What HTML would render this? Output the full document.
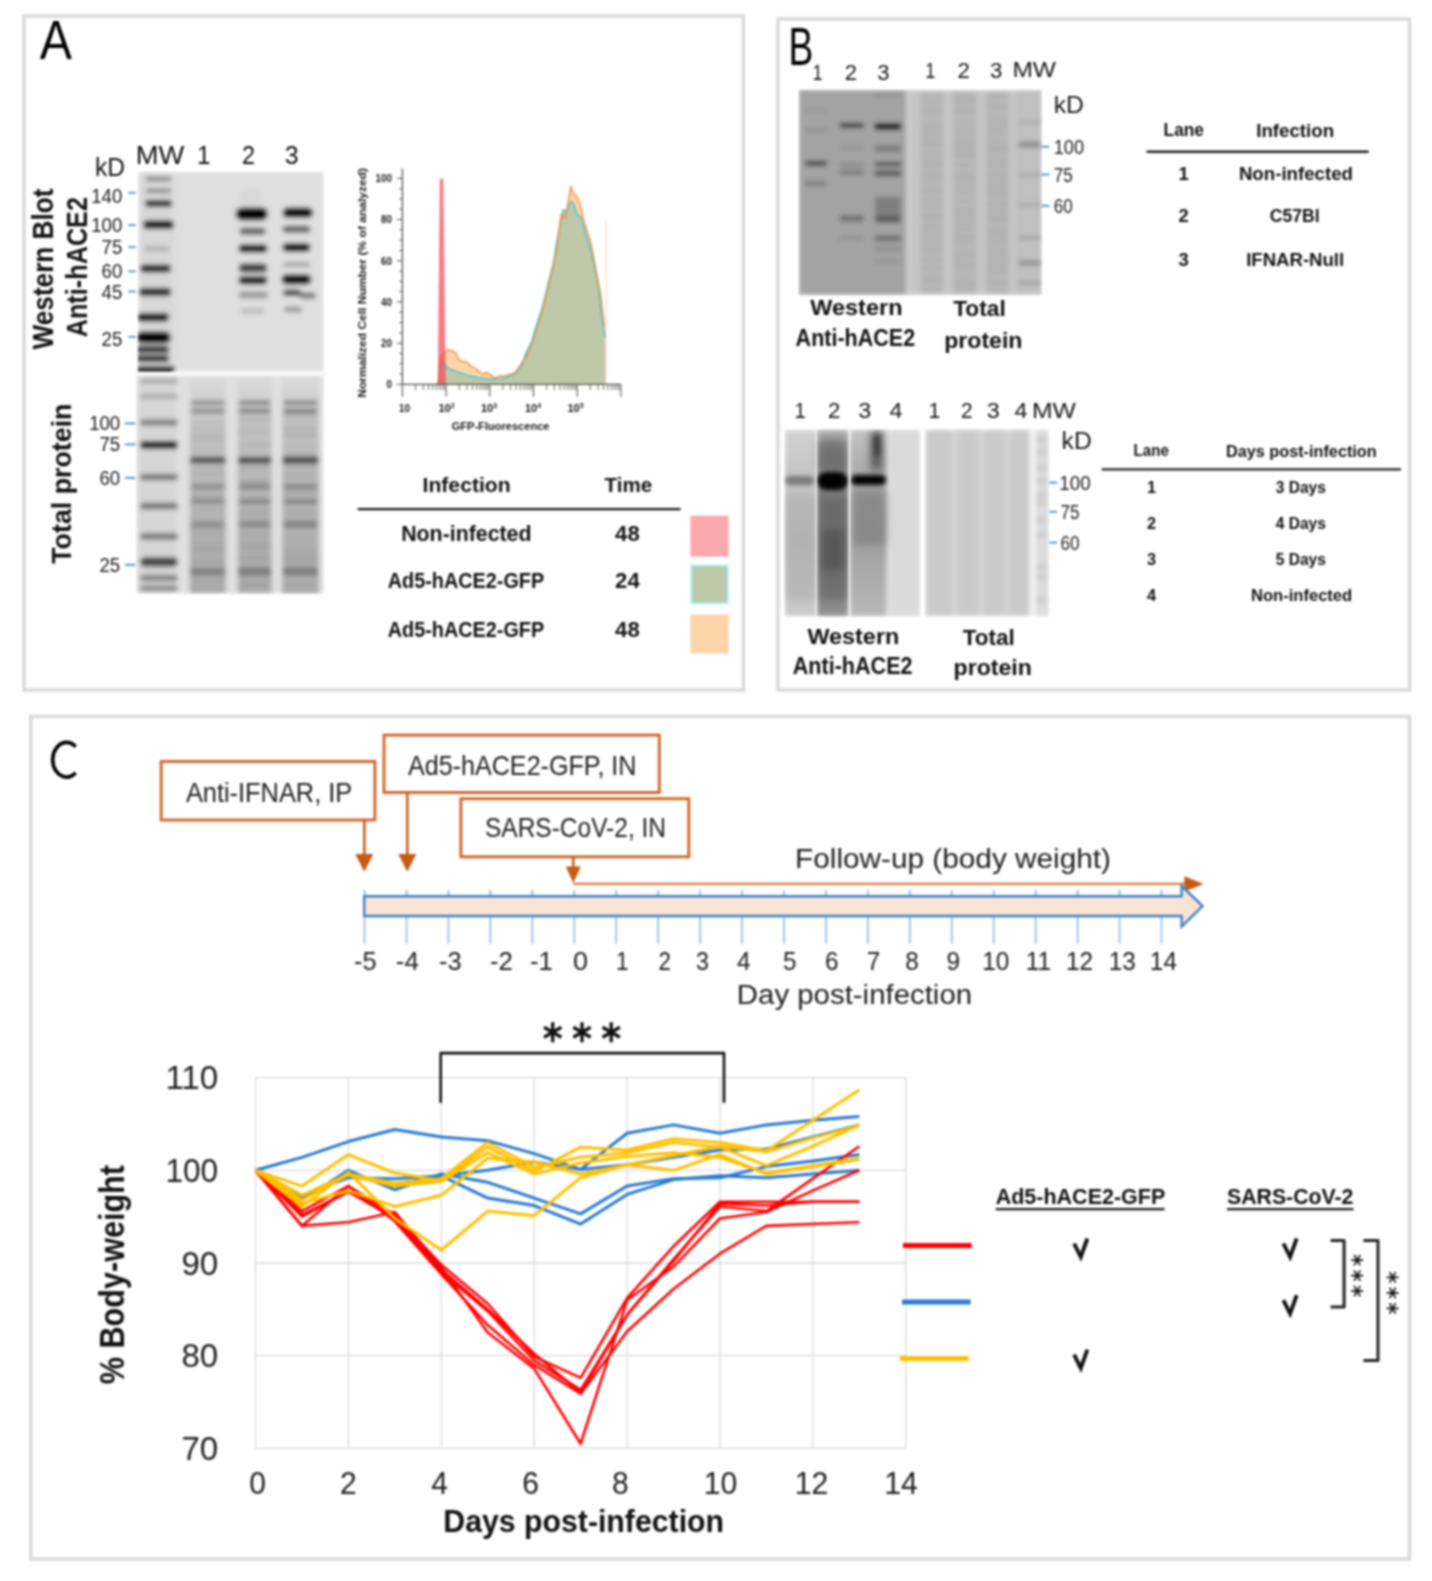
<!DOCTYPE html>
<html><head><meta charset="utf-8"><style>
html,body{margin:0;padding:0;background:#fff;}
svg{display:block;filter:blur(1.0px);}
text{font-family:"Liberation Sans", sans-serif;}
</style></head><body>
<svg width="1432" height="1581" viewBox="0 0 1432 1581">
<defs>
<clipPath id="cA1"><rect x="137.7" y="171.3" width="186.4" height="200.4"/></clipPath>
<clipPath id="cA2"><rect x="135.8" y="375.1" width="188.4" height="218.9"/></clipPath>
<clipPath id="cB1"><rect x="798.5" y="89.4" width="243.5" height="206"/></clipPath>
<clipPath id="cB2"><rect x="784.3" y="429.3" width="136.3" height="187.4"/></clipPath>
<clipPath id="cB23"><rect x="784.3" y="429.3" width="136.3" height="187.4"/><rect x="924.8" y="429.1" width="124.5" height="187.7"/></clipPath>
<filter id="bl12" x="-5%" y="-5%" width="110%" height="110%"><feGaussianBlur stdDeviation="2.0"/></filter>
<filter id="bl15" x="-5%" y="-5%" width="110%" height="110%"><feGaussianBlur stdDeviation="2.0"/></filter>
<filter id="bl20" x="-5%" y="-5%" width="110%" height="110%"><feGaussianBlur stdDeviation="2.4"/></filter>
<filter id="bl40" x="-20%" y="-20%" width="140%" height="140%"><feGaussianBlur stdDeviation="4"/></filter>
<linearGradient id="lgL1" x1="0" y1="0" x2="0" y2="1"><stop offset="0" stop-color="#d2d2d2"/><stop offset="0.25" stop-color="#c4c4c4"/><stop offset="0.6" stop-color="#bababa"/><stop offset="1" stop-color="#cacaca"/></linearGradient>
<linearGradient id="lgL2" x1="0" y1="0" x2="0" y2="1"><stop offset="0" stop-color="#b0b0b0"/><stop offset="0.15" stop-color="#8c8c8c"/><stop offset="0.4" stop-color="#7a7a7a"/><stop offset="0.7" stop-color="#787878"/><stop offset="1" stop-color="#909090"/></linearGradient>
<linearGradient id="lgL3" x1="0" y1="0" x2="0" y2="1"><stop offset="0" stop-color="#c4c4c4"/><stop offset="0.25" stop-color="#a8a8a8"/><stop offset="0.6" stop-color="#a0a0a0"/><stop offset="1" stop-color="#b8b8b8"/></linearGradient>
<linearGradient id="lg1" x1="0" y1="0" x2="0" y2="1"><stop offset="0" stop-color="#dadada"/><stop offset="0.15" stop-color="#cdcdcd"/><stop offset="0.45" stop-color="#bdbdbd"/><stop offset="1" stop-color="#acacac"/></linearGradient>
</defs>
<rect width="1432" height="1581" fill="#fff"/>
<rect x="24.00" y="16.00" width="719.50" height="674.00" fill="none" stroke="#dadada" stroke-width="3.6" />
<rect x="778.00" y="19.00" width="631.50" height="671.00" fill="none" stroke="#dadada" stroke-width="3.6" />
<rect x="30.80" y="716.50" width="1378.70" height="842.50" fill="none" stroke="#dadada" stroke-width="3.6" />
<text x="39.80" y="59.40" font-size="55" font-weight="normal" text-anchor="start" fill="#000" textLength="32.20" lengthAdjust="spacingAndGlyphs" >A</text>
<text x="135.70" y="164.00" font-size="25.3" font-weight="normal" text-anchor="start" fill="#111" textLength="48.60" lengthAdjust="spacingAndGlyphs" >MW</text>
<text x="197.00" y="164.00" font-size="25.3" font-weight="normal" text-anchor="start" fill="#111" textLength="13.50" lengthAdjust="spacingAndGlyphs" >1</text>
<text x="242.00" y="164.00" font-size="25.3" font-weight="normal" text-anchor="start" fill="#111" textLength="13.00" lengthAdjust="spacingAndGlyphs" >2</text>
<text x="284.70" y="164.00" font-size="25.3" font-weight="normal" text-anchor="start" fill="#111" textLength="13.90" lengthAdjust="spacingAndGlyphs" >3</text>
<text x="95.00" y="176.00" font-size="26" font-weight="normal" text-anchor="start" fill="#111" textLength="30.00" lengthAdjust="spacingAndGlyphs" >kD</text>
<g clip-path="url(#cA1)"><g filter="url(#bl12)">
<rect x="137.70" y="171.30" width="186.40" height="200.40" fill="#dfdfdf" stroke="none" stroke-width="0" />
<rect x="140.00" y="172.00" width="34.00" height="199.00" fill="#d8d8d8" stroke="none" stroke-width="0" />
<rect x="146.00" y="177.50" width="25.20" height="3.00" rx="1.50" fill="#505050" fill-opacity="1.0"/>
<rect x="146.00" y="189.30" width="25.20" height="3.00" rx="1.50" fill="#505050" fill-opacity="1.0"/>
<rect x="145.00" y="200.15" width="27.00" height="6.50" rx="3.25" fill="#050505" fill-opacity="1.0"/>
<rect x="143.00" y="220.55" width="31.00" height="8.50" rx="4.25" fill="#000000" fill-opacity="1.0"/>
<rect x="145.00" y="246.30" width="25.00" height="5.00" rx="2.50" fill="#afafaf" fill-opacity="1.0"/>
<rect x="140.00" y="264.65" width="31.00" height="7.50" rx="3.75" fill="#000000" fill-opacity="1.0"/>
<rect x="139.00" y="288.10" width="32.00" height="8.00" rx="4.00" fill="#000000" fill-opacity="1.0"/>
<rect x="137.00" y="312.95" width="32.00" height="8.50" rx="4.25" fill="#000000" fill-opacity="1.0"/>
<rect x="136.00" y="331.50" width="35.00" height="12.00" rx="6.00" fill="#000000" fill-opacity="1.0"/>
<rect x="136.00" y="346.00" width="33.00" height="7.00" rx="3.50" fill="#000000" fill-opacity="1.0"/>
<rect x="136.00" y="355.10" width="33.00" height="7.00" rx="3.50" fill="#000000" fill-opacity="1.0"/>
<rect x="136.00" y="366.10" width="39.00" height="7.00" rx="3.50" fill="#050505" fill-opacity="1.0"/>
<rect x="239.00" y="189.00" width="23.00" height="16.00" rx="8.00" fill="#cdcdcd" fill-opacity="0.4"/>
<rect x="235.50" y="207.40" width="32.50" height="13.00" rx="6.50" fill="#000000" fill-opacity="1.0"/>
<rect x="239.50" y="227.80" width="26.00" height="7.00" rx="3.50" fill="#5f5f5f" fill-opacity="1.0"/>
<rect x="238.50" y="244.40" width="29.00" height="8.00" rx="4.00" fill="#050505" fill-opacity="1.0"/>
<rect x="238.50" y="263.60" width="29.00" height="9.00" rx="4.50" fill="#414141" fill-opacity="1.0"/>
<rect x="238.50" y="275.95" width="29.00" height="8.50" rx="4.25" fill="#0a0a0a" fill-opacity="1.0"/>
<rect x="238.50" y="291.40" width="30.00" height="7.00" rx="3.50" fill="#9b9b9b" fill-opacity="1.0"/>
<rect x="241.00" y="308.00" width="23.00" height="6.00" rx="3.00" fill="#bebebe" fill-opacity="1.0"/>
<rect x="282.50" y="207.55" width="30.50" height="10.50" rx="5.25" fill="#000000" fill-opacity="1.0"/>
<rect x="282.50" y="225.70" width="28.00" height="7.00" rx="3.50" fill="#646464" fill-opacity="1.0"/>
<rect x="282.50" y="242.90" width="28.00" height="9.00" rx="4.50" fill="#000000" fill-opacity="1.0"/>
<rect x="283.00" y="261.90" width="27.00" height="5.00" rx="2.50" fill="#a5a5a5" fill-opacity="1.0"/>
<rect x="281.50" y="274.50" width="30.00" height="10.00" rx="5.00" fill="#000000" fill-opacity="1.0"/>
<rect x="283.00" y="289.55" width="18.00" height="6.50" rx="3.25" fill="#414141" fill-opacity="1.0"/>
<rect x="299.00" y="292.50" width="17.00" height="6.00" rx="3.00" fill="#737373" fill-opacity="1.0"/>
<rect x="284.00" y="306.75" width="18.00" height="5.50" rx="2.75" fill="#969696" fill-opacity="1.0"/>
</g></g>
<rect x="135.00" y="371.90" width="191.00" height="3.10" fill="#f8f8f8" stroke="none" stroke-width="0" />
<g clip-path="url(#cA2)"><g filter="url(#bl12)">
<rect x="135.80" y="375.10" width="188.40" height="218.90" fill="#e0e0e0" stroke="none" stroke-width="0" />
<rect x="138.70" y="376.00" width="37.80" height="217.50" fill="#d6d6d6" stroke="none" stroke-width="0" />
<rect x="189.6" y="376" width="36.4" height="217.5" fill="url(#lg1)"/>
<rect x="237.6" y="376" width="34.2" height="217.5" fill="url(#lg1)"/>
<rect x="282" y="376" width="37.0" height="217.5" fill="url(#lg1)"/>
<rect x="140.00" y="379.40" width="38.00" height="3.00" rx="1.50" fill="#8c8c8c" fill-opacity="1.0"/>
<rect x="140.00" y="394.70" width="38.00" height="3.00" rx="1.50" fill="#8c8c8c" fill-opacity="1.0"/>
<rect x="140.00" y="419.15" width="38.00" height="6.50" rx="3.25" fill="#828282" fill-opacity="1.0"/>
<rect x="140.00" y="440.90" width="38.00" height="8.00" rx="4.00" fill="#000000" fill-opacity="1.0"/>
<rect x="140.00" y="473.90" width="38.00" height="6.00" rx="3.00" fill="#6e6e6e" fill-opacity="1.0"/>
<rect x="140.00" y="502.75" width="38.00" height="6.50" rx="3.25" fill="#737373" fill-opacity="1.0"/>
<rect x="140.00" y="533.25" width="38.00" height="6.50" rx="3.25" fill="#787878" fill-opacity="1.0"/>
<rect x="140.00" y="557.25" width="38.00" height="9.50" rx="4.75" fill="#464646" fill-opacity="1.0"/>
<rect x="140.00" y="574.75" width="38.00" height="6.50" rx="3.25" fill="#828282" fill-opacity="1.0"/>
<rect x="140.00" y="585.45" width="38.00" height="5.50" rx="2.75" fill="#828282" fill-opacity="1.0"/>
<rect x="190.60" y="412.69" width="34.40" height="2.62" rx="1.31" fill="#8c8c8c" fill-opacity="0.2573776292425393"/>
<rect x="190.60" y="419.63" width="34.40" height="2.29" rx="1.15" fill="#8c8c8c" fill-opacity="0.37192489628124004"/>
<rect x="190.60" y="425.42" width="34.40" height="2.28" rx="1.14" fill="#8c8c8c" fill-opacity="0.3634621306238525"/>
<rect x="190.60" y="429.81" width="34.40" height="2.76" rx="1.38" fill="#8c8c8c" fill-opacity="0.23328198851344914"/>
<rect x="190.60" y="434.63" width="34.40" height="2.75" rx="1.38" fill="#8c8c8c" fill-opacity="0.4584885070899314"/>
<rect x="190.60" y="439.70" width="34.40" height="2.49" rx="1.25" fill="#8c8c8c" fill-opacity="0.3991613836656628"/>
<rect x="190.60" y="447.28" width="34.40" height="2.95" rx="1.48" fill="#8c8c8c" fill-opacity="0.33051244120860707"/>
<rect x="190.60" y="455.54" width="34.40" height="2.26" rx="1.13" fill="#8c8c8c" fill-opacity="0.46789436656698213"/>
<rect x="190.60" y="460.99" width="34.40" height="2.39" rx="1.19" fill="#8c8c8c" fill-opacity="0.24754319082831458"/>
<rect x="190.60" y="466.14" width="34.40" height="3.26" rx="1.63" fill="#8c8c8c" fill-opacity="0.2662660980273714"/>
<rect x="190.60" y="472.79" width="34.40" height="3.03" rx="1.52" fill="#8c8c8c" fill-opacity="0.323288268960905"/>
<rect x="190.60" y="479.58" width="34.40" height="2.28" rx="1.14" fill="#8c8c8c" fill-opacity="0.23023134806495418"/>
<rect x="190.60" y="484.40" width="34.40" height="3.08" rx="1.54" fill="#8c8c8c" fill-opacity="0.33970871093664734"/>
<rect x="190.60" y="490.06" width="34.40" height="2.96" rx="1.48" fill="#8c8c8c" fill-opacity="0.34732235197030564"/>
<rect x="190.60" y="495.47" width="34.40" height="3.23" rx="1.62" fill="#8c8c8c" fill-opacity="0.4204508440345474"/>
<rect x="190.60" y="500.97" width="34.40" height="2.95" rx="1.47" fill="#8c8c8c" fill-opacity="0.3687459598839068"/>
<rect x="190.60" y="508.43" width="34.40" height="3.15" rx="1.57" fill="#8c8c8c" fill-opacity="0.2981614850548305"/>
<rect x="190.60" y="516.76" width="34.40" height="2.35" rx="1.18" fill="#8c8c8c" fill-opacity="0.33689153948110506"/>
<rect x="190.60" y="523.89" width="34.40" height="2.40" rx="1.20" fill="#8c8c8c" fill-opacity="0.35796652239155213"/>
<rect x="190.60" y="528.19" width="34.40" height="3.07" rx="1.53" fill="#8c8c8c" fill-opacity="0.4399598326983119"/>
<rect x="190.60" y="534.56" width="34.40" height="3.34" rx="1.67" fill="#8c8c8c" fill-opacity="0.3058398850723088"/>
<rect x="190.60" y="541.68" width="34.40" height="2.97" rx="1.49" fill="#8c8c8c" fill-opacity="0.3850188232740414"/>
<rect x="190.60" y="547.61" width="34.40" height="3.29" rx="1.65" fill="#8c8c8c" fill-opacity="0.49354262579461133"/>
<rect x="190.60" y="553.89" width="34.40" height="3.06" rx="1.53" fill="#8c8c8c" fill-opacity="0.23054915471017287"/>
<rect x="190.60" y="560.85" width="34.40" height="3.04" rx="1.52" fill="#8c8c8c" fill-opacity="0.5079460419913236"/>
<rect x="190.60" y="568.47" width="34.40" height="2.57" rx="1.28" fill="#8c8c8c" fill-opacity="0.3272729541278965"/>
<rect x="190.60" y="575.48" width="34.40" height="2.23" rx="1.11" fill="#8c8c8c" fill-opacity="0.34985434767418033"/>
<rect x="190.60" y="580.50" width="34.40" height="2.35" rx="1.18" fill="#8c8c8c" fill-opacity="0.23003893975106485"/>
<rect x="190.60" y="587.69" width="34.40" height="2.37" rx="1.18" fill="#8c8c8c" fill-opacity="0.28616541302483195"/>
<rect x="190.60" y="400.70" width="34.40" height="4.00" rx="2.00" fill="#646464" fill-opacity="0.7224999999999999"/>
<rect x="190.60" y="408.70" width="34.40" height="4.00" rx="2.00" fill="#646464" fill-opacity="0.7224999999999999"/>
<rect x="189.60" y="457.20" width="36.40" height="6.00" rx="3.00" fill="#323232" fill-opacity="0.8075"/>
<rect x="190.60" y="484.15" width="34.40" height="4.50" rx="2.25" fill="#6e6e6e" fill-opacity="0.6375"/>
<rect x="190.60" y="499.35" width="34.40" height="4.50" rx="2.25" fill="#6e6e6e" fill-opacity="0.6375"/>
<rect x="190.60" y="521.70" width="34.40" height="5.00" rx="2.50" fill="#6e6e6e" fill-opacity="0.68"/>
<rect x="189.60" y="568.00" width="36.40" height="7.00" rx="3.50" fill="#6e6e6e" fill-opacity="0.7224999999999999"/>
<rect x="238.60" y="412.33" width="32.20" height="3.33" rx="1.67" fill="#8c8c8c" fill-opacity="0.27820345542004854"/>
<rect x="238.60" y="418.62" width="32.20" height="2.91" rx="1.46" fill="#8c8c8c" fill-opacity="0.5591843392545294"/>
<rect x="238.60" y="425.78" width="32.20" height="3.32" rx="1.66" fill="#8c8c8c" fill-opacity="0.347447372579864"/>
<rect x="238.60" y="432.06" width="32.20" height="2.67" rx="1.33" fill="#8c8c8c" fill-opacity="0.5594674895193759"/>
<rect x="238.60" y="440.05" width="32.20" height="2.40" rx="1.20" fill="#8c8c8c" fill-opacity="0.3116762049716296"/>
<rect x="238.60" y="445.31" width="32.20" height="2.50" rx="1.25" fill="#8c8c8c" fill-opacity="0.41973695561947477"/>
<rect x="238.60" y="451.85" width="32.20" height="2.54" rx="1.27" fill="#8c8c8c" fill-opacity="0.25143276118477237"/>
<rect x="238.60" y="457.75" width="32.20" height="2.68" rx="1.34" fill="#8c8c8c" fill-opacity="0.44821942829723715"/>
<rect x="238.60" y="465.37" width="32.20" height="3.10" rx="1.55" fill="#8c8c8c" fill-opacity="0.4304220015747724"/>
<rect x="238.60" y="472.04" width="32.20" height="3.08" rx="1.54" fill="#8c8c8c" fill-opacity="0.26889751262832656"/>
<rect x="238.60" y="479.62" width="32.20" height="3.21" rx="1.61" fill="#8c8c8c" fill-opacity="0.5560796144470668"/>
<rect x="238.60" y="487.17" width="32.20" height="2.71" rx="1.36" fill="#8c8c8c" fill-opacity="0.38964259131209555"/>
<rect x="238.60" y="491.87" width="32.20" height="3.02" rx="1.51" fill="#8c8c8c" fill-opacity="0.27178673756654065"/>
<rect x="238.60" y="496.89" width="32.20" height="2.47" rx="1.24" fill="#8c8c8c" fill-opacity="0.3068061157202341"/>
<rect x="238.60" y="502.68" width="32.20" height="2.27" rx="1.13" fill="#8c8c8c" fill-opacity="0.25008164866547483"/>
<rect x="238.60" y="507.68" width="32.20" height="2.33" rx="1.17" fill="#8c8c8c" fill-opacity="0.3772634727120998"/>
<rect x="238.60" y="511.76" width="32.20" height="3.34" rx="1.67" fill="#8c8c8c" fill-opacity="0.4649241457259675"/>
<rect x="238.60" y="517.19" width="32.20" height="2.53" rx="1.26" fill="#8c8c8c" fill-opacity="0.3715863411187955"/>
<rect x="238.60" y="523.05" width="32.20" height="2.36" rx="1.18" fill="#8c8c8c" fill-opacity="0.5471279242696152"/>
<rect x="238.60" y="530.80" width="32.20" height="2.81" rx="1.40" fill="#8c8c8c" fill-opacity="0.4193421297456943"/>
<rect x="238.60" y="535.84" width="32.20" height="2.33" rx="1.17" fill="#8c8c8c" fill-opacity="0.3699225433850506"/>
<rect x="238.60" y="540.79" width="32.20" height="3.28" rx="1.64" fill="#8c8c8c" fill-opacity="0.306503513684251"/>
<rect x="238.60" y="545.29" width="32.20" height="3.44" rx="1.72" fill="#8c8c8c" fill-opacity="0.4348900882647436"/>
<rect x="238.60" y="550.57" width="32.20" height="2.91" rx="1.45" fill="#8c8c8c" fill-opacity="0.259464871997759"/>
<rect x="238.60" y="556.63" width="32.20" height="3.47" rx="1.74" fill="#8c8c8c" fill-opacity="0.5521637606013841"/>
<rect x="238.60" y="564.04" width="32.20" height="2.54" rx="1.27" fill="#8c8c8c" fill-opacity="0.3783449271164126"/>
<rect x="238.60" y="568.79" width="32.20" height="3.20" rx="1.60" fill="#8c8c8c" fill-opacity="0.4364073391225076"/>
<rect x="238.60" y="576.30" width="32.20" height="2.63" rx="1.31" fill="#8c8c8c" fill-opacity="0.3280645855861148"/>
<rect x="238.60" y="583.22" width="32.20" height="3.48" rx="1.74" fill="#8c8c8c" fill-opacity="0.5484200795613312"/>
<rect x="238.60" y="400.70" width="32.20" height="4.00" rx="2.00" fill="#646464" fill-opacity="0.85"/>
<rect x="238.60" y="408.70" width="32.20" height="4.00" rx="2.00" fill="#646464" fill-opacity="0.85"/>
<rect x="237.60" y="457.20" width="34.20" height="6.00" rx="3.00" fill="#323232" fill-opacity="0.95"/>
<rect x="238.60" y="484.15" width="32.20" height="4.50" rx="2.25" fill="#6e6e6e" fill-opacity="0.75"/>
<rect x="238.60" y="499.35" width="32.20" height="4.50" rx="2.25" fill="#6e6e6e" fill-opacity="0.75"/>
<rect x="238.60" y="521.70" width="32.20" height="5.00" rx="2.50" fill="#6e6e6e" fill-opacity="0.8"/>
<rect x="237.60" y="568.00" width="34.20" height="7.00" rx="3.50" fill="#6e6e6e" fill-opacity="0.85"/>
<rect x="283.00" y="412.37" width="35.00" height="3.26" rx="1.63" fill="#8c8c8c" fill-opacity="0.5089555571314999"/>
<rect x="283.00" y="417.86" width="35.00" height="2.87" rx="1.44" fill="#8c8c8c" fill-opacity="0.3744468901742354"/>
<rect x="283.00" y="422.78" width="35.00" height="2.24" rx="1.12" fill="#8c8c8c" fill-opacity="0.3477964886671604"/>
<rect x="283.00" y="427.75" width="35.00" height="3.10" rx="1.55" fill="#8c8c8c" fill-opacity="0.5847802767194682"/>
<rect x="283.00" y="433.66" width="35.00" height="3.42" rx="1.71" fill="#8c8c8c" fill-opacity="0.595813320371001"/>
<rect x="283.00" y="441.87" width="35.00" height="2.67" rx="1.34" fill="#8c8c8c" fill-opacity="0.3271618130486831"/>
<rect x="283.00" y="447.28" width="35.00" height="2.46" rx="1.23" fill="#8c8c8c" fill-opacity="0.32153067714667805"/>
<rect x="283.00" y="453.50" width="35.00" height="3.37" rx="1.69" fill="#8c8c8c" fill-opacity="0.5441524345477514"/>
<rect x="283.00" y="459.84" width="35.00" height="3.05" rx="1.52" fill="#8c8c8c" fill-opacity="0.529875310697381"/>
<rect x="283.00" y="464.63" width="35.00" height="3.06" rx="1.53" fill="#8c8c8c" fill-opacity="0.568421998143103"/>
<rect x="283.00" y="471.81" width="35.00" height="3.18" rx="1.59" fill="#8c8c8c" fill-opacity="0.4173114606079001"/>
<rect x="283.00" y="476.91" width="35.00" height="3.23" rx="1.61" fill="#8c8c8c" fill-opacity="0.36638101995261346"/>
<rect x="283.00" y="484.10" width="35.00" height="3.46" rx="1.73" fill="#8c8c8c" fill-opacity="0.3885434732743068"/>
<rect x="283.00" y="490.02" width="35.00" height="3.43" rx="1.72" fill="#8c8c8c" fill-opacity="0.5036795329719753"/>
<rect x="283.00" y="495.65" width="35.00" height="2.37" rx="1.18" fill="#8c8c8c" fill-opacity="0.30290274513352144"/>
<rect x="283.00" y="502.87" width="35.00" height="3.25" rx="1.62" fill="#8c8c8c" fill-opacity="0.30116100806035595"/>
<rect x="283.00" y="510.15" width="35.00" height="3.47" rx="1.74" fill="#8c8c8c" fill-opacity="0.480043902457607"/>
<rect x="283.00" y="516.16" width="35.00" height="2.91" rx="1.46" fill="#8c8c8c" fill-opacity="0.2958443482033076"/>
<rect x="283.00" y="520.43" width="35.00" height="3.46" rx="1.73" fill="#8c8c8c" fill-opacity="0.47738613438584065"/>
<rect x="283.00" y="526.80" width="35.00" height="3.41" rx="1.71" fill="#8c8c8c" fill-opacity="0.40183330286512"/>
<rect x="283.00" y="534.42" width="35.00" height="3.27" rx="1.64" fill="#8c8c8c" fill-opacity="0.32386481806485207"/>
<rect x="283.00" y="540.15" width="35.00" height="2.58" rx="1.29" fill="#8c8c8c" fill-opacity="0.3341887873954171"/>
<rect x="283.00" y="546.72" width="35.00" height="2.54" rx="1.27" fill="#8c8c8c" fill-opacity="0.39665439346409026"/>
<rect x="283.00" y="551.26" width="35.00" height="3.38" rx="1.69" fill="#8c8c8c" fill-opacity="0.3738244083836406"/>
<rect x="283.00" y="557.58" width="35.00" height="2.96" rx="1.48" fill="#8c8c8c" fill-opacity="0.5665038710897139"/>
<rect x="283.00" y="563.33" width="35.00" height="3.39" rx="1.70" fill="#8c8c8c" fill-opacity="0.42557712939208103"/>
<rect x="283.00" y="569.95" width="35.00" height="2.88" rx="1.44" fill="#8c8c8c" fill-opacity="0.25654670376689703"/>
<rect x="283.00" y="576.21" width="35.00" height="2.44" rx="1.22" fill="#8c8c8c" fill-opacity="0.2513763686389747"/>
<rect x="283.00" y="583.51" width="35.00" height="2.42" rx="1.21" fill="#8c8c8c" fill-opacity="0.4157225263616847"/>
<rect x="283.00" y="590.30" width="35.00" height="2.92" rx="1.46" fill="#8c8c8c" fill-opacity="0.36409375286710244"/>
<rect x="283.00" y="400.70" width="35.00" height="4.00" rx="2.00" fill="#646464" fill-opacity="0.85"/>
<rect x="283.00" y="408.70" width="35.00" height="4.00" rx="2.00" fill="#646464" fill-opacity="0.85"/>
<rect x="282.00" y="457.20" width="37.00" height="6.00" rx="3.00" fill="#323232" fill-opacity="0.95"/>
<rect x="283.00" y="484.15" width="35.00" height="4.50" rx="2.25" fill="#6e6e6e" fill-opacity="0.75"/>
<rect x="283.00" y="499.35" width="35.00" height="4.50" rx="2.25" fill="#6e6e6e" fill-opacity="0.75"/>
<rect x="283.00" y="521.70" width="35.00" height="5.00" rx="2.50" fill="#6e6e6e" fill-opacity="0.8"/>
<rect x="282.00" y="568.00" width="37.00" height="7.00" rx="3.50" fill="#6e6e6e" fill-opacity="0.85"/>
</g></g>
<text x="91.28" y="202.50" font-size="20" font-weight="normal" text-anchor="start" fill="#1c1c1c" textLength="31.03" lengthAdjust="spacingAndGlyphs" >140</text>
<text x="91.28" y="232.00" font-size="20" font-weight="normal" text-anchor="start" fill="#1c1c1c" textLength="31.03" lengthAdjust="spacingAndGlyphs" >100</text>
<text x="101.62" y="254.00" font-size="20" font-weight="normal" text-anchor="start" fill="#1c1c1c" textLength="20.69" lengthAdjust="spacingAndGlyphs" >75</text>
<text x="101.62" y="278.40" font-size="20" font-weight="normal" text-anchor="start" fill="#1c1c1c" textLength="20.69" lengthAdjust="spacingAndGlyphs" >60</text>
<text x="101.62" y="299.40" font-size="20" font-weight="normal" text-anchor="start" fill="#1c1c1c" textLength="20.69" lengthAdjust="spacingAndGlyphs" >45</text>
<text x="101.62" y="345.60" font-size="20" font-weight="normal" text-anchor="start" fill="#1c1c1c" textLength="20.69" lengthAdjust="spacingAndGlyphs" >25</text>
<line x1="128.40" y1="192.80" x2="135.70" y2="192.80" stroke="#5b9bd5" stroke-width="2" />
<line x1="128.40" y1="225.00" x2="135.70" y2="225.00" stroke="#5b9bd5" stroke-width="2" />
<line x1="128.40" y1="247.00" x2="135.70" y2="247.00" stroke="#5b9bd5" stroke-width="2" />
<line x1="128.40" y1="271.40" x2="135.70" y2="271.40" stroke="#5b9bd5" stroke-width="2" />
<line x1="128.40" y1="291.50" x2="135.70" y2="291.50" stroke="#5b9bd5" stroke-width="2" />
<line x1="128.40" y1="336.90" x2="135.70" y2="336.90" stroke="#5b9bd5" stroke-width="2" />
<text x="89.18" y="430.40" font-size="20" font-weight="normal" text-anchor="start" fill="#1c1c1c" textLength="31.03" lengthAdjust="spacingAndGlyphs" >100</text>
<text x="99.52" y="451.40" font-size="20" font-weight="normal" text-anchor="start" fill="#1c1c1c" textLength="20.69" lengthAdjust="spacingAndGlyphs" >75</text>
<text x="99.52" y="484.90" font-size="20" font-weight="normal" text-anchor="start" fill="#1c1c1c" textLength="20.69" lengthAdjust="spacingAndGlyphs" >60</text>
<text x="99.52" y="571.80" font-size="20" font-weight="normal" text-anchor="start" fill="#1c1c1c" textLength="20.69" lengthAdjust="spacingAndGlyphs" >25</text>
<line x1="124.90" y1="423.40" x2="135.30" y2="423.40" stroke="#5b9bd5" stroke-width="2" />
<line x1="124.90" y1="444.40" x2="135.30" y2="444.40" stroke="#5b9bd5" stroke-width="2" />
<line x1="124.90" y1="477.90" x2="135.30" y2="477.90" stroke="#5b9bd5" stroke-width="2" />
<line x1="124.90" y1="564.80" x2="135.30" y2="564.80" stroke="#5b9bd5" stroke-width="2" />
<text transform="translate(53.00,349.40) rotate(-90)" x="-0.00" y="0" font-size="28.6" font-weight="bold" fill="#111111" textLength="160.80" lengthAdjust="spacingAndGlyphs">Western Blot</text>
<text transform="translate(87.20,337.30) rotate(-90)" x="-0.00" y="0" font-size="28.6" font-weight="bold" fill="#111111" textLength="140.31" lengthAdjust="spacingAndGlyphs">Anti-hACE2</text>
<text transform="translate(71.40,563.80) rotate(-90)" x="-0.00" y="0" font-size="27.3" font-weight="bold" fill="#111111" textLength="160.30" lengthAdjust="spacingAndGlyphs">Total protein</text>
<polygon points="437.99,384.01 440.34,360.54 441.90,355.65 447.77,349.79 451.68,350.76 455.59,352.72 459.50,360.54 463.41,361.52 467.32,362.50 471.24,366.41 475.15,368.36 479.06,371.30 482.97,374.23 486.88,372.27 490.79,375.21 494.70,378.14 498.61,376.18 506.43,375.21 514.25,373.25 518.17,368.36 522.08,362.50 525.99,358.59 531.85,344.90 535.76,333.17 541.63,313.61 545.54,297.97 549.45,282.32 553.36,266.68 557.27,247.13 560.21,219.75 561.18,213.89 563.14,216.82 565.10,218.77 567.05,208.02 569.01,196.29 570.96,186.51 572.92,193.35 576.83,196.29 580.74,206.06 584.65,223.66 590.52,241.26 595.40,266.68 598.34,282.32 600.29,292.10 604.20,325.34 605.18,325.34 605.18,384.01" fill="#fdd5ab" />
<polygon points="437.99,384.01 440.34,370.32 441.90,359.56 443.86,362.50 447.77,368.36 455.59,371.30 467.32,375.21 479.06,377.75 490.79,379.12 502.52,378.53 510.34,376.18 516.21,372.67 522.08,364.45 525.99,352.72 531.85,340.99 535.76,327.30 541.63,309.70 545.54,294.06 549.45,278.41 553.36,262.77 557.27,239.31 560.21,223.66 563.14,209.97 565.10,210.95 568.03,208.02 570.96,201.18 573.90,204.11 576.83,213.89 580.74,216.82 582.69,223.66 586.61,237.35 590.52,249.08 594.43,266.68 598.34,286.24 602.25,321.43 605.18,337.08 605.18,384.01" fill="#bfc8a8" />
<polyline points="437.99,384.01 440.34,370.32 441.90,359.56 443.86,362.50 447.77,368.36 455.59,371.30 467.32,375.21 479.06,377.75 490.79,379.12 502.52,378.53 510.34,376.18 516.21,372.67 522.08,364.45 525.99,352.72 531.85,340.99 535.76,327.30 541.63,309.70 545.54,294.06 549.45,278.41 553.36,262.77 557.27,239.31 560.21,223.66 563.14,209.97 565.10,210.95 568.03,208.02 570.96,201.18 573.90,204.11 576.83,213.89 580.74,216.82 582.69,223.66 586.61,237.35 590.52,249.08 594.43,266.68 598.34,286.24 602.25,321.43 605.18,337.08" fill="none" stroke="#4cc3d6" stroke-width="1.5" stroke-linejoin="round" />
<polyline points="437.99,384.01 440.34,360.54 441.90,355.65 447.77,349.79 451.68,350.76 455.59,352.72 459.50,360.54 463.41,361.52 467.32,362.50 471.24,366.41 475.15,368.36 479.06,371.30 482.97,374.23 486.88,372.27 490.79,375.21 494.70,378.14 498.61,376.18 506.43,375.21 514.25,373.25 518.17,368.36 522.08,362.50 525.99,358.59 531.85,344.90 535.76,333.17 541.63,313.61 545.54,297.97 549.45,282.32 553.36,266.68 557.27,247.13 560.21,219.75 561.18,213.89 563.14,216.82 565.10,218.77 567.05,208.02 569.01,196.29 570.96,186.51 572.92,193.35 576.83,196.29 580.74,206.06 584.65,223.66 590.52,241.26 595.40,266.68 598.34,282.32 600.29,292.10 604.20,325.34 605.18,325.34" fill="none" stroke="#f0974a" stroke-width="1.5" stroke-linejoin="round" />
<polygon points="437.80,384.40 439.80,178.70 443.30,178.70 445.80,384.40" fill="#f5505f" fill-opacity="0.75"/>
<line x1="606.00" y1="220.00" x2="606.00" y2="384.00" stroke="#f7c59a" stroke-width="0.8" />
<line x1="402.40" y1="168.50" x2="402.40" y2="385.00" stroke="#555" stroke-width="1.3" />
<line x1="402.00" y1="384.40" x2="620.80" y2="384.40" stroke="#555" stroke-width="1.3" />
<line x1="396.90" y1="384.40" x2="402.40" y2="384.40" stroke="#555" stroke-width="1" />
<line x1="399.40" y1="374.09" x2="402.40" y2="374.09" stroke="#555" stroke-width="1" />
<line x1="399.40" y1="363.79" x2="402.40" y2="363.79" stroke="#555" stroke-width="1" />
<line x1="399.40" y1="353.48" x2="402.40" y2="353.48" stroke="#555" stroke-width="1" />
<line x1="396.90" y1="343.18" x2="402.40" y2="343.18" stroke="#555" stroke-width="1" />
<line x1="399.40" y1="332.88" x2="402.40" y2="332.88" stroke="#555" stroke-width="1" />
<line x1="399.40" y1="322.57" x2="402.40" y2="322.57" stroke="#555" stroke-width="1" />
<line x1="399.40" y1="312.26" x2="402.40" y2="312.26" stroke="#555" stroke-width="1" />
<line x1="396.90" y1="301.96" x2="402.40" y2="301.96" stroke="#555" stroke-width="1" />
<line x1="399.40" y1="291.65" x2="402.40" y2="291.65" stroke="#555" stroke-width="1" />
<line x1="399.40" y1="281.35" x2="402.40" y2="281.35" stroke="#555" stroke-width="1" />
<line x1="399.40" y1="271.04" x2="402.40" y2="271.04" stroke="#555" stroke-width="1" />
<line x1="396.90" y1="260.74" x2="402.40" y2="260.74" stroke="#555" stroke-width="1" />
<line x1="399.40" y1="250.43" x2="402.40" y2="250.43" stroke="#555" stroke-width="1" />
<line x1="399.40" y1="240.13" x2="402.40" y2="240.13" stroke="#555" stroke-width="1" />
<line x1="399.40" y1="229.82" x2="402.40" y2="229.82" stroke="#555" stroke-width="1" />
<line x1="396.90" y1="219.52" x2="402.40" y2="219.52" stroke="#555" stroke-width="1" />
<line x1="399.40" y1="209.21" x2="402.40" y2="209.21" stroke="#555" stroke-width="1" />
<line x1="399.40" y1="198.91" x2="402.40" y2="198.91" stroke="#555" stroke-width="1" />
<line x1="399.40" y1="188.60" x2="402.40" y2="188.60" stroke="#555" stroke-width="1" />
<line x1="396.90" y1="178.30" x2="402.40" y2="178.30" stroke="#555" stroke-width="1" />
<text x="386.50" y="388.30" font-size="11" font-weight="bold" text-anchor="start" fill="#1a1a1a" textLength="5.51" lengthAdjust="spacingAndGlyphs" >0</text>
<text x="380.99" y="347.08" font-size="11" font-weight="bold" text-anchor="start" fill="#1a1a1a" textLength="11.01" lengthAdjust="spacingAndGlyphs" >20</text>
<text x="380.99" y="305.86" font-size="11" font-weight="bold" text-anchor="start" fill="#1a1a1a" textLength="11.01" lengthAdjust="spacingAndGlyphs" >40</text>
<text x="380.99" y="264.64" font-size="11" font-weight="bold" text-anchor="start" fill="#1a1a1a" textLength="11.01" lengthAdjust="spacingAndGlyphs" >60</text>
<text x="380.99" y="223.42" font-size="11" font-weight="bold" text-anchor="start" fill="#1a1a1a" textLength="11.01" lengthAdjust="spacingAndGlyphs" >80</text>
<text x="375.49" y="182.20" font-size="11" font-weight="bold" text-anchor="start" fill="#1a1a1a" textLength="16.52" lengthAdjust="spacingAndGlyphs" >100</text>
<line x1="402.40" y1="384.40" x2="402.40" y2="396.70" stroke="#555" stroke-width="1.1" />
<line x1="415.56" y1="384.40" x2="415.56" y2="390.00" stroke="#555" stroke-width="0.9" />
<line x1="423.25" y1="384.40" x2="423.25" y2="390.00" stroke="#555" stroke-width="0.9" />
<line x1="428.71" y1="384.40" x2="428.71" y2="390.00" stroke="#555" stroke-width="0.9" />
<line x1="432.94" y1="384.40" x2="432.94" y2="390.00" stroke="#555" stroke-width="0.9" />
<line x1="436.41" y1="384.40" x2="436.41" y2="390.00" stroke="#555" stroke-width="0.9" />
<line x1="439.33" y1="384.40" x2="439.33" y2="390.00" stroke="#555" stroke-width="0.9" />
<line x1="441.87" y1="384.40" x2="441.87" y2="390.00" stroke="#555" stroke-width="0.9" />
<line x1="444.10" y1="384.40" x2="444.10" y2="390.00" stroke="#555" stroke-width="0.9" />
<line x1="446.10" y1="384.40" x2="446.10" y2="396.70" stroke="#555" stroke-width="1.1" />
<line x1="459.26" y1="384.40" x2="459.26" y2="390.00" stroke="#555" stroke-width="0.9" />
<line x1="466.95" y1="384.40" x2="466.95" y2="390.00" stroke="#555" stroke-width="0.9" />
<line x1="472.41" y1="384.40" x2="472.41" y2="390.00" stroke="#555" stroke-width="0.9" />
<line x1="476.64" y1="384.40" x2="476.64" y2="390.00" stroke="#555" stroke-width="0.9" />
<line x1="480.11" y1="384.40" x2="480.11" y2="390.00" stroke="#555" stroke-width="0.9" />
<line x1="483.03" y1="384.40" x2="483.03" y2="390.00" stroke="#555" stroke-width="0.9" />
<line x1="485.57" y1="384.40" x2="485.57" y2="390.00" stroke="#555" stroke-width="0.9" />
<line x1="487.80" y1="384.40" x2="487.80" y2="390.00" stroke="#555" stroke-width="0.9" />
<line x1="489.80" y1="384.40" x2="489.80" y2="396.70" stroke="#555" stroke-width="1.1" />
<line x1="502.96" y1="384.40" x2="502.96" y2="390.00" stroke="#555" stroke-width="0.9" />
<line x1="510.65" y1="384.40" x2="510.65" y2="390.00" stroke="#555" stroke-width="0.9" />
<line x1="516.11" y1="384.40" x2="516.11" y2="390.00" stroke="#555" stroke-width="0.9" />
<line x1="520.34" y1="384.40" x2="520.34" y2="390.00" stroke="#555" stroke-width="0.9" />
<line x1="523.81" y1="384.40" x2="523.81" y2="390.00" stroke="#555" stroke-width="0.9" />
<line x1="526.73" y1="384.40" x2="526.73" y2="390.00" stroke="#555" stroke-width="0.9" />
<line x1="529.27" y1="384.40" x2="529.27" y2="390.00" stroke="#555" stroke-width="0.9" />
<line x1="531.50" y1="384.40" x2="531.50" y2="390.00" stroke="#555" stroke-width="0.9" />
<line x1="533.50" y1="384.40" x2="533.50" y2="396.70" stroke="#555" stroke-width="1.1" />
<line x1="546.66" y1="384.40" x2="546.66" y2="390.00" stroke="#555" stroke-width="0.9" />
<line x1="554.35" y1="384.40" x2="554.35" y2="390.00" stroke="#555" stroke-width="0.9" />
<line x1="559.81" y1="384.40" x2="559.81" y2="390.00" stroke="#555" stroke-width="0.9" />
<line x1="564.04" y1="384.40" x2="564.04" y2="390.00" stroke="#555" stroke-width="0.9" />
<line x1="567.51" y1="384.40" x2="567.51" y2="390.00" stroke="#555" stroke-width="0.9" />
<line x1="570.43" y1="384.40" x2="570.43" y2="390.00" stroke="#555" stroke-width="0.9" />
<line x1="572.97" y1="384.40" x2="572.97" y2="390.00" stroke="#555" stroke-width="0.9" />
<line x1="575.20" y1="384.40" x2="575.20" y2="390.00" stroke="#555" stroke-width="0.9" />
<line x1="577.20" y1="384.40" x2="577.20" y2="396.70" stroke="#555" stroke-width="1.1" />
<line x1="590.36" y1="384.40" x2="590.36" y2="390.00" stroke="#555" stroke-width="0.9" />
<line x1="598.05" y1="384.40" x2="598.05" y2="390.00" stroke="#555" stroke-width="0.9" />
<line x1="603.51" y1="384.40" x2="603.51" y2="390.00" stroke="#555" stroke-width="0.9" />
<line x1="607.74" y1="384.40" x2="607.74" y2="390.00" stroke="#555" stroke-width="0.9" />
<line x1="611.21" y1="384.40" x2="611.21" y2="390.00" stroke="#555" stroke-width="0.9" />
<line x1="614.13" y1="384.40" x2="614.13" y2="390.00" stroke="#555" stroke-width="0.9" />
<line x1="616.67" y1="384.40" x2="616.67" y2="390.00" stroke="#555" stroke-width="0.9" />
<line x1="618.90" y1="384.40" x2="618.90" y2="390.00" stroke="#555" stroke-width="0.9" />
<line x1="620.90" y1="384.40" x2="620.90" y2="396.70" stroke="#555" stroke-width="1.1" />
<text x="399.00" y="411.80" font-size="11" font-weight="bold" text-anchor="start" fill="#1a1a1a" textLength="11.01" lengthAdjust="spacingAndGlyphs" >10</text>
<text x="446.5" y="411.8" font-size="11" font-weight="bold" text-anchor="middle" fill="#1a1a1a">10<tspan dy="-4" font-size="7">2</tspan></text>
<text x="489.0" y="411.8" font-size="11" font-weight="bold" text-anchor="middle" fill="#1a1a1a">10<tspan dy="-4" font-size="7">3</tspan></text>
<text x="533.0" y="411.8" font-size="11" font-weight="bold" text-anchor="middle" fill="#1a1a1a">10<tspan dy="-4" font-size="7">4</tspan></text>
<text x="575.5" y="411.8" font-size="11" font-weight="bold" text-anchor="middle" fill="#1a1a1a">10<tspan dy="-4" font-size="7">5</tspan></text>
<text x="451.70" y="429.50" font-size="11" font-weight="bold" text-anchor="start" fill="#1a1a1a" textLength="97.80" lengthAdjust="spacingAndGlyphs" >GFP-Fluorescence</text>
<text transform="translate(366.20,397.70) rotate(-90)" x="-0.00" y="0" font-size="11" font-weight="bold" fill="#1a1a1a" textLength="229.70" lengthAdjust="spacingAndGlyphs">Normalized Cell Number (% of analyzed)</text>
<text x="422.50" y="491.90" font-size="21" font-weight="bold" text-anchor="start" fill="#111111" textLength="88.19" lengthAdjust="spacingAndGlyphs" >Infection</text>
<text x="604.60" y="491.90" font-size="21" font-weight="bold" text-anchor="start" fill="#111111" textLength="47.60" lengthAdjust="spacingAndGlyphs" >Time</text>
<line x1="357.60" y1="509.10" x2="680.60" y2="509.10" stroke="#1a1a1a" stroke-width="2.4" />
<text x="401.20" y="541.10" font-size="21.5" font-weight="bold" text-anchor="start" fill="#111111" textLength="130.30" lengthAdjust="spacingAndGlyphs" >Non-infected</text>
<text x="615.10" y="541.10" font-size="21.5" font-weight="bold" text-anchor="start" fill="#111111" textLength="24.61" lengthAdjust="spacingAndGlyphs" >48</text>
<text x="387.80" y="588.40" font-size="21.5" font-weight="bold" text-anchor="start" fill="#111111" textLength="156.40" lengthAdjust="spacingAndGlyphs" >Ad5-hACE2-GFP</text>
<text x="615.10" y="588.40" font-size="21.5" font-weight="bold" text-anchor="start" fill="#111111" textLength="24.61" lengthAdjust="spacingAndGlyphs" >24</text>
<text x="387.80" y="637.20" font-size="21.5" font-weight="bold" text-anchor="start" fill="#111111" textLength="156.40" lengthAdjust="spacingAndGlyphs" >Ad5-hACE2-GFP</text>
<text x="615.10" y="637.20" font-size="21.5" font-weight="bold" text-anchor="start" fill="#111111" textLength="24.61" lengthAdjust="spacingAndGlyphs" >48</text>
<rect x="690.40" y="515.70" width="38.20" height="41.00" fill="#fba9ae" stroke="none" stroke-width="0" />
<rect x="691.40" y="565.60" width="36.20" height="37.60" fill="#bfc8a8" stroke="#a6eef6" stroke-width="2" />
<rect x="690.40" y="614.50" width="38.20" height="39.00" fill="#fed4a9" stroke="none" stroke-width="0" />
<text x="788.40" y="65.00" font-size="53.5" font-weight="normal" text-anchor="start" fill="#000" textLength="24.80" lengthAdjust="spacingAndGlyphs" >B</text>
<text x="812.40" y="80.30" font-size="21.5" font-weight="normal" text-anchor="start" fill="#151515" textLength="10.10" lengthAdjust="spacingAndGlyphs" >1</text>
<text x="844.80" y="80.30" font-size="21.5" font-weight="normal" text-anchor="start" fill="#151515" textLength="12.30" lengthAdjust="spacingAndGlyphs" >2</text>
<text x="877.20" y="80.30" font-size="21.5" font-weight="normal" text-anchor="start" fill="#151515" textLength="12.30" lengthAdjust="spacingAndGlyphs" >3</text>
<text x="925.20" y="78.10" font-size="21.5" font-weight="normal" text-anchor="start" fill="#151515" textLength="10.10" lengthAdjust="spacingAndGlyphs" >1</text>
<text x="957.60" y="78.10" font-size="21.5" font-weight="normal" text-anchor="start" fill="#151515" textLength="12.40" lengthAdjust="spacingAndGlyphs" >2</text>
<text x="990.00" y="78.10" font-size="21.5" font-weight="normal" text-anchor="start" fill="#151515" textLength="12.30" lengthAdjust="spacingAndGlyphs" >3</text>
<text x="1012.40" y="76.80" font-size="21.5" font-weight="normal" text-anchor="start" fill="#151515" textLength="43.60" lengthAdjust="spacingAndGlyphs" >MW</text>
<text x="1053.70" y="112.70" font-size="24" font-weight="normal" text-anchor="start" fill="#151515" textLength="30.20" lengthAdjust="spacingAndGlyphs" >kD</text>
<text x="1053.70" y="154.00" font-size="20.5" font-weight="normal" text-anchor="start" fill="#1c1c1c" textLength="30.31" lengthAdjust="spacingAndGlyphs" >100</text>
<line x1="1041.50" y1="146.80" x2="1049.30" y2="146.80" stroke="#5b9bd5" stroke-width="2" />
<text x="1053.70" y="181.70" font-size="20.5" font-weight="normal" text-anchor="start" fill="#1c1c1c" textLength="19.01" lengthAdjust="spacingAndGlyphs" >75</text>
<line x1="1041.50" y1="174.50" x2="1049.30" y2="174.50" stroke="#5b9bd5" stroke-width="2" />
<text x="1053.70" y="213.00" font-size="20.5" font-weight="normal" text-anchor="start" fill="#1c1c1c" textLength="19.01" lengthAdjust="spacingAndGlyphs" >60</text>
<line x1="1041.50" y1="205.80" x2="1049.30" y2="205.80" stroke="#5b9bd5" stroke-width="2" />
<g clip-path="url(#cB1)"><g filter="url(#bl15)">
<rect x="798.50" y="89.40" width="107.90" height="206.00" fill="#a3a3a3" stroke="none" stroke-width="0" />
<rect x="906.40" y="89.40" width="3.10" height="206.00" fill="#cdcdcd" stroke="none" stroke-width="0" />
<rect x="909.50" y="89.40" width="132.50" height="206.00" fill="#c5c5c5" stroke="none" stroke-width="0" />
<rect x="920.70" y="92.00" width="22.70" height="201.00" fill="#b8b8b8" stroke="none" stroke-width="0" />
<rect x="921.70" y="94.90" width="20.70" height="2.20" rx="1.10" fill="#a0a0a0" fill-opacity="0.2951858508367565"/>
<rect x="921.70" y="101.62" width="20.70" height="2.20" rx="1.10" fill="#a0a0a0" fill-opacity="0.3479820666192317"/>
<rect x="921.70" y="108.64" width="20.70" height="2.20" rx="1.10" fill="#a0a0a0" fill-opacity="0.4502881216432216"/>
<rect x="921.70" y="112.97" width="20.70" height="2.20" rx="1.10" fill="#a0a0a0" fill-opacity="0.20526719662194967"/>
<rect x="921.70" y="121.16" width="20.70" height="2.20" rx="1.10" fill="#a0a0a0" fill-opacity="0.30374160573120307"/>
<rect x="921.70" y="126.33" width="20.70" height="2.20" rx="1.10" fill="#a0a0a0" fill-opacity="0.5982579342041852"/>
<rect x="921.70" y="132.68" width="20.70" height="2.20" rx="1.10" fill="#a0a0a0" fill-opacity="0.5345845805097555"/>
<rect x="921.70" y="139.06" width="20.70" height="2.20" rx="1.10" fill="#a0a0a0" fill-opacity="0.45562725621766476"/>
<rect x="921.70" y="143.81" width="20.70" height="2.20" rx="1.10" fill="#a0a0a0" fill-opacity="0.4539442633140754"/>
<rect x="921.70" y="152.15" width="20.70" height="2.20" rx="1.10" fill="#a0a0a0" fill-opacity="0.4092724841533205"/>
<rect x="921.70" y="159.86" width="20.70" height="2.20" rx="1.10" fill="#a0a0a0" fill-opacity="0.468564590147837"/>
<rect x="921.70" y="164.18" width="20.70" height="2.20" rx="1.10" fill="#a0a0a0" fill-opacity="0.5032920985147269"/>
<rect x="921.70" y="171.14" width="20.70" height="2.20" rx="1.10" fill="#a0a0a0" fill-opacity="0.3205070638062849"/>
<rect x="921.70" y="175.29" width="20.70" height="2.20" rx="1.10" fill="#a0a0a0" fill-opacity="0.5462108947915782"/>
<rect x="921.70" y="181.65" width="20.70" height="2.20" rx="1.10" fill="#a0a0a0" fill-opacity="0.4875295696263212"/>
<rect x="921.70" y="190.05" width="20.70" height="2.20" rx="1.10" fill="#a0a0a0" fill-opacity="0.485651793444481"/>
<rect x="921.70" y="198.65" width="20.70" height="2.20" rx="1.10" fill="#a0a0a0" fill-opacity="0.3579853616002976"/>
<rect x="921.70" y="206.66" width="20.70" height="2.20" rx="1.10" fill="#a0a0a0" fill-opacity="0.37784842242030425"/>
<rect x="921.70" y="215.34" width="20.70" height="2.20" rx="1.10" fill="#a0a0a0" fill-opacity="0.5515466641352167"/>
<rect x="921.70" y="219.82" width="20.70" height="2.20" rx="1.10" fill="#a0a0a0" fill-opacity="0.25438754408026754"/>
<rect x="921.70" y="224.91" width="20.70" height="2.20" rx="1.10" fill="#a0a0a0" fill-opacity="0.5861920555592812"/>
<rect x="921.70" y="231.09" width="20.70" height="2.20" rx="1.10" fill="#a0a0a0" fill-opacity="0.4506593163467216"/>
<rect x="921.70" y="236.59" width="20.70" height="2.20" rx="1.10" fill="#a0a0a0" fill-opacity="0.4028971935316238"/>
<rect x="921.70" y="242.52" width="20.70" height="2.20" rx="1.10" fill="#a0a0a0" fill-opacity="0.340364195508072"/>
<rect x="921.70" y="249.45" width="20.70" height="2.20" rx="1.10" fill="#a0a0a0" fill-opacity="0.43370071718807957"/>
<rect x="921.70" y="257.97" width="20.70" height="2.20" rx="1.10" fill="#a0a0a0" fill-opacity="0.4727928546539866"/>
<rect x="921.70" y="266.62" width="20.70" height="2.20" rx="1.10" fill="#a0a0a0" fill-opacity="0.5425602265587022"/>
<rect x="921.70" y="275.57" width="20.70" height="2.20" rx="1.10" fill="#a0a0a0" fill-opacity="0.4685094168650073"/>
<rect x="921.70" y="280.39" width="20.70" height="2.20" rx="1.10" fill="#a0a0a0" fill-opacity="0.5442550132465073"/>
<rect x="921.70" y="289.21" width="20.70" height="2.20" rx="1.10" fill="#a0a0a0" fill-opacity="0.5618783938048946"/>
<rect x="953.00" y="92.00" width="23.60" height="201.00" fill="#b8b8b8" stroke="none" stroke-width="0" />
<rect x="954.00" y="94.90" width="21.60" height="2.20" rx="1.10" fill="#a0a0a0" fill-opacity="0.4855268080696797"/>
<rect x="954.00" y="99.96" width="21.60" height="2.20" rx="1.10" fill="#a0a0a0" fill-opacity="0.5326431721093416"/>
<rect x="954.00" y="106.82" width="21.60" height="2.20" rx="1.10" fill="#a0a0a0" fill-opacity="0.31398298479448206"/>
<rect x="954.00" y="111.14" width="21.60" height="2.20" rx="1.10" fill="#a0a0a0" fill-opacity="0.5415769953690721"/>
<rect x="954.00" y="120.09" width="21.60" height="2.20" rx="1.10" fill="#a0a0a0" fill-opacity="0.23540723724389134"/>
<rect x="954.00" y="128.09" width="21.60" height="2.20" rx="1.10" fill="#a0a0a0" fill-opacity="0.36418473093836357"/>
<rect x="954.00" y="132.85" width="21.60" height="2.20" rx="1.10" fill="#a0a0a0" fill-opacity="0.31755649872762487"/>
<rect x="954.00" y="140.69" width="21.60" height="2.20" rx="1.10" fill="#a0a0a0" fill-opacity="0.5491068098512806"/>
<rect x="954.00" y="144.91" width="21.60" height="2.20" rx="1.10" fill="#a0a0a0" fill-opacity="0.44581301141272345"/>
<rect x="954.00" y="149.14" width="21.60" height="2.20" rx="1.10" fill="#a0a0a0" fill-opacity="0.4873761909794065"/>
<rect x="954.00" y="154.79" width="21.60" height="2.20" rx="1.10" fill="#a0a0a0" fill-opacity="0.5523621228989433"/>
<rect x="954.00" y="163.69" width="21.60" height="2.20" rx="1.10" fill="#a0a0a0" fill-opacity="0.40216814945921764"/>
<rect x="954.00" y="172.69" width="21.60" height="2.20" rx="1.10" fill="#a0a0a0" fill-opacity="0.3238680213905356"/>
<rect x="954.00" y="177.07" width="21.60" height="2.20" rx="1.10" fill="#a0a0a0" fill-opacity="0.4399051235186403"/>
<rect x="954.00" y="181.23" width="21.60" height="2.20" rx="1.10" fill="#a0a0a0" fill-opacity="0.27895394257136774"/>
<rect x="954.00" y="187.27" width="21.60" height="2.20" rx="1.10" fill="#a0a0a0" fill-opacity="0.4441868491869366"/>
<rect x="954.00" y="192.05" width="21.60" height="2.20" rx="1.10" fill="#a0a0a0" fill-opacity="0.2169743298884817"/>
<rect x="954.00" y="200.39" width="21.60" height="2.20" rx="1.10" fill="#a0a0a0" fill-opacity="0.32553220796643667"/>
<rect x="954.00" y="209.18" width="21.60" height="2.20" rx="1.10" fill="#a0a0a0" fill-opacity="0.5586638565710407"/>
<rect x="954.00" y="215.07" width="21.60" height="2.20" rx="1.10" fill="#a0a0a0" fill-opacity="0.3841638531383619"/>
<rect x="954.00" y="221.67" width="21.60" height="2.20" rx="1.10" fill="#a0a0a0" fill-opacity="0.4575554873550907"/>
<rect x="954.00" y="228.65" width="21.60" height="2.20" rx="1.10" fill="#a0a0a0" fill-opacity="0.4237044248061562"/>
<rect x="954.00" y="235.75" width="21.60" height="2.20" rx="1.10" fill="#a0a0a0" fill-opacity="0.5762485021695853"/>
<rect x="954.00" y="242.28" width="21.60" height="2.20" rx="1.10" fill="#a0a0a0" fill-opacity="0.3724766213723731"/>
<rect x="954.00" y="249.89" width="21.60" height="2.20" rx="1.10" fill="#a0a0a0" fill-opacity="0.2950542477859136"/>
<rect x="954.00" y="255.39" width="21.60" height="2.20" rx="1.10" fill="#a0a0a0" fill-opacity="0.5911189265794541"/>
<rect x="954.00" y="262.00" width="21.60" height="2.20" rx="1.10" fill="#a0a0a0" fill-opacity="0.4193721870747449"/>
<rect x="954.00" y="266.05" width="21.60" height="2.20" rx="1.10" fill="#a0a0a0" fill-opacity="0.3660841375215528"/>
<rect x="954.00" y="272.95" width="21.60" height="2.20" rx="1.10" fill="#a0a0a0" fill-opacity="0.20802115612183975"/>
<rect x="954.00" y="280.03" width="21.60" height="2.20" rx="1.10" fill="#a0a0a0" fill-opacity="0.45287221411844614"/>
<rect x="954.00" y="284.33" width="21.60" height="2.20" rx="1.10" fill="#a0a0a0" fill-opacity="0.4509364436043824"/>
<rect x="954.00" y="290.66" width="21.60" height="2.20" rx="1.10" fill="#a0a0a0" fill-opacity="0.4717125592152434"/>
<rect x="986.20" y="92.00" width="22.70" height="201.00" fill="#b8b8b8" stroke="none" stroke-width="0" />
<rect x="987.20" y="94.90" width="20.70" height="2.20" rx="1.10" fill="#a0a0a0" fill-opacity="0.4827800997463596"/>
<rect x="987.20" y="102.59" width="20.70" height="2.20" rx="1.10" fill="#a0a0a0" fill-opacity="0.20887298759632397"/>
<rect x="987.20" y="106.89" width="20.70" height="2.20" rx="1.10" fill="#a0a0a0" fill-opacity="0.4704081237949507"/>
<rect x="987.20" y="115.71" width="20.70" height="2.20" rx="1.10" fill="#a0a0a0" fill-opacity="0.3004489112733881"/>
<rect x="987.20" y="121.99" width="20.70" height="2.20" rx="1.10" fill="#a0a0a0" fill-opacity="0.43706875026659564"/>
<rect x="987.20" y="127.59" width="20.70" height="2.20" rx="1.10" fill="#a0a0a0" fill-opacity="0.3455820357359828"/>
<rect x="987.20" y="133.15" width="20.70" height="2.20" rx="1.10" fill="#a0a0a0" fill-opacity="0.3476615901107816"/>
<rect x="987.20" y="140.13" width="20.70" height="2.20" rx="1.10" fill="#a0a0a0" fill-opacity="0.32016158934623573"/>
<rect x="987.20" y="146.02" width="20.70" height="2.20" rx="1.10" fill="#a0a0a0" fill-opacity="0.5089093649776484"/>
<rect x="987.20" y="150.15" width="20.70" height="2.20" rx="1.10" fill="#a0a0a0" fill-opacity="0.4277032008282329"/>
<rect x="987.20" y="157.83" width="20.70" height="2.20" rx="1.10" fill="#a0a0a0" fill-opacity="0.3240066781640372"/>
<rect x="987.20" y="162.94" width="20.70" height="2.20" rx="1.10" fill="#a0a0a0" fill-opacity="0.5215230681579652"/>
<rect x="987.20" y="168.14" width="20.70" height="2.20" rx="1.10" fill="#a0a0a0" fill-opacity="0.2749577363671768"/>
<rect x="987.20" y="174.31" width="20.70" height="2.20" rx="1.10" fill="#a0a0a0" fill-opacity="0.47922656266993996"/>
<rect x="987.20" y="178.82" width="20.70" height="2.20" rx="1.10" fill="#a0a0a0" fill-opacity="0.3287863938485058"/>
<rect x="987.20" y="184.49" width="20.70" height="2.20" rx="1.10" fill="#a0a0a0" fill-opacity="0.5334155566229235"/>
<rect x="987.20" y="190.68" width="20.70" height="2.20" rx="1.10" fill="#a0a0a0" fill-opacity="0.5422140775939546"/>
<rect x="987.20" y="195.53" width="20.70" height="2.20" rx="1.10" fill="#a0a0a0" fill-opacity="0.3346840940179523"/>
<rect x="987.20" y="202.78" width="20.70" height="2.20" rx="1.10" fill="#a0a0a0" fill-opacity="0.5539593087685155"/>
<rect x="987.20" y="209.03" width="20.70" height="2.20" rx="1.10" fill="#a0a0a0" fill-opacity="0.29001113708915394"/>
<rect x="987.20" y="213.64" width="20.70" height="2.20" rx="1.10" fill="#a0a0a0" fill-opacity="0.4118510513233573"/>
<rect x="987.20" y="218.59" width="20.70" height="2.20" rx="1.10" fill="#a0a0a0" fill-opacity="0.5227108950501829"/>
<rect x="987.20" y="226.79" width="20.70" height="2.20" rx="1.10" fill="#a0a0a0" fill-opacity="0.27343452532210233"/>
<rect x="987.20" y="232.18" width="20.70" height="2.20" rx="1.10" fill="#a0a0a0" fill-opacity="0.5228905672667814"/>
<rect x="987.20" y="239.39" width="20.70" height="2.20" rx="1.10" fill="#a0a0a0" fill-opacity="0.522503136454022"/>
<rect x="987.20" y="245.11" width="20.70" height="2.20" rx="1.10" fill="#a0a0a0" fill-opacity="0.25187565511844273"/>
<rect x="987.20" y="250.57" width="20.70" height="2.20" rx="1.10" fill="#a0a0a0" fill-opacity="0.5175447697936659"/>
<rect x="987.20" y="255.93" width="20.70" height="2.20" rx="1.10" fill="#a0a0a0" fill-opacity="0.3385417122667414"/>
<rect x="987.20" y="262.01" width="20.70" height="2.20" rx="1.10" fill="#a0a0a0" fill-opacity="0.36790847351650074"/>
<rect x="987.20" y="268.06" width="20.70" height="2.20" rx="1.10" fill="#a0a0a0" fill-opacity="0.5682449531950522"/>
<rect x="987.20" y="272.84" width="20.70" height="2.20" rx="1.10" fill="#a0a0a0" fill-opacity="0.20186471783325827"/>
<rect x="987.20" y="281.56" width="20.70" height="2.20" rx="1.10" fill="#a0a0a0" fill-opacity="0.5519913006504191"/>
<rect x="987.20" y="290.49" width="20.70" height="2.20" rx="1.10" fill="#a0a0a0" fill-opacity="0.37374092507026047"/>
<rect x="1016.70" y="90.00" width="25.30" height="205.00" fill="#c0c0c0" stroke="none" stroke-width="0" />
<rect x="1018.00" y="120.50" width="24.00" height="3.00" rx="1.50" fill="#a5a5a5" fill-opacity="1.0"/>
<rect x="1018.00" y="141.40" width="24.00" height="6.00" rx="3.00" fill="#8c8c8c" fill-opacity="1.0"/>
<rect x="1018.00" y="173.50" width="24.00" height="3.00" rx="1.50" fill="#a0a0a0" fill-opacity="1.0"/>
<rect x="1018.00" y="203.50" width="24.00" height="3.00" rx="1.50" fill="#a0a0a0" fill-opacity="1.0"/>
<rect x="1018.00" y="236.30" width="24.00" height="3.00" rx="1.50" fill="#9b9b9b" fill-opacity="1.0"/>
<rect x="1018.00" y="260.50" width="24.00" height="5.00" rx="2.50" fill="#919191" fill-opacity="1.0"/>
<rect x="1018.00" y="281.50" width="24.00" height="3.00" rx="1.50" fill="#969696" fill-opacity="1.0"/>
<rect x="804.60" y="160.95" width="22.70" height="4.50" rx="2.25" fill="#2d2d2d" fill-opacity="1.0"/>
<rect x="804.60" y="181.60" width="22.70" height="4.00" rx="2.00" fill="#787878" fill-opacity="1.0"/>
<rect x="804.60" y="128.00" width="22.70" height="3.00" rx="1.50" fill="#8c8c8c" fill-opacity="1.0"/>
<rect x="804.60" y="108.50" width="22.70" height="3.00" rx="1.50" fill="#969696" fill-opacity="1.0"/>
<rect x="839.50" y="123.00" width="24.50" height="5.00" rx="2.50" fill="#2d2d2d" fill-opacity="1.0"/>
<rect x="839.50" y="146.30" width="24.50" height="3.00" rx="1.50" fill="#919191" fill-opacity="1.0"/>
<rect x="839.50" y="162.90" width="24.50" height="3.00" rx="1.50" fill="#828282" fill-opacity="1.0"/>
<rect x="839.50" y="169.80" width="24.50" height="5.00" rx="2.50" fill="#787878" fill-opacity="1.0"/>
<rect x="839.50" y="215.60" width="24.50" height="6.00" rx="3.00" fill="#6e6e6e" fill-opacity="1.0"/>
<rect x="839.50" y="237.10" width="24.50" height="3.00" rx="1.50" fill="#8c8c8c" fill-opacity="1.0"/>
<rect x="874.40" y="94.00" width="27.10" height="3.00" rx="1.50" fill="#8c8c8c" fill-opacity="1.0"/>
<rect x="874.40" y="122.90" width="27.10" height="7.00" rx="3.50" fill="#050505" fill-opacity="1.0"/>
<rect x="874.40" y="145.70" width="27.10" height="6.00" rx="3.00" fill="#787878" fill-opacity="1.0"/>
<rect x="874.40" y="162.15" width="27.10" height="3.50" rx="1.75" fill="#2d2d2d" fill-opacity="1.0"/>
<rect x="874.40" y="170.20" width="27.10" height="6.00" rx="3.00" fill="#5a5a5a" fill-opacity="1.0"/>
<rect x="874.40" y="235.60" width="27.10" height="6.00" rx="3.00" fill="#6e6e6e" fill-opacity="1.0"/>
<rect x="874.40" y="247.50" width="27.10" height="3.00" rx="1.50" fill="#828282" fill-opacity="1.0"/>
<rect x="874.40" y="259.80" width="27.10" height="3.00" rx="1.50" fill="#919191" fill-opacity="1.0"/>
<rect x="875.00" y="196.70" width="26.00" height="26.30" fill="#767676" stroke="none" stroke-width="0" fill-opacity="0.8"/>
<rect x="875.00" y="216.00" width="26.00" height="6.00" rx="3.00" fill="#5a5a5a" fill-opacity="1.0"/>
</g></g>
<text x="810.20" y="315.30" font-size="22.7" font-weight="bold" text-anchor="start" fill="#111111" textLength="92.31" lengthAdjust="spacingAndGlyphs" >Western</text>
<text x="795.60" y="346.00" font-size="23.5" font-weight="bold" text-anchor="start" fill="#111111" textLength="119.60" lengthAdjust="spacingAndGlyphs" >Anti-hACE2</text>
<text x="953.20" y="316.40" font-size="22.7" font-weight="bold" text-anchor="start" fill="#111111" textLength="52.51" lengthAdjust="spacingAndGlyphs" >Total</text>
<text x="944.20" y="347.70" font-size="22.7" font-weight="bold" text-anchor="start" fill="#111111" textLength="78.29" lengthAdjust="spacingAndGlyphs" >protein</text>
<text x="1163.60" y="136.30" font-size="18.5" font-weight="bold" text-anchor="start" fill="#111111" textLength="40.40" lengthAdjust="spacingAndGlyphs" >Lane</text>
<text x="1256.20" y="137.20" font-size="18.5" font-weight="bold" text-anchor="start" fill="#111111" textLength="77.99" lengthAdjust="spacingAndGlyphs" >Infection</text>
<line x1="1146.70" y1="151.70" x2="1368.70" y2="151.70" stroke="#222" stroke-width="2.4" />
<text x="1178.46" y="179.90" font-size="18.5" font-weight="bold" text-anchor="start" fill="#111111" textLength="10.29" lengthAdjust="spacingAndGlyphs" >1</text>
<text x="1238.90" y="179.90" font-size="18.5" font-weight="bold" text-anchor="start" fill="#111111" textLength="114.10" lengthAdjust="spacingAndGlyphs" >Non-infected</text>
<text x="1178.46" y="221.60" font-size="18.5" font-weight="bold" text-anchor="start" fill="#111111" textLength="10.29" lengthAdjust="spacingAndGlyphs" >2</text>
<text x="1269.80" y="221.60" font-size="18.5" font-weight="bold" text-anchor="start" fill="#111111" textLength="49.91" lengthAdjust="spacingAndGlyphs" >C57Bl</text>
<text x="1178.46" y="265.60" font-size="18.5" font-weight="bold" text-anchor="start" fill="#111111" textLength="10.29" lengthAdjust="spacingAndGlyphs" >3</text>
<text x="1246.20" y="265.60" font-size="18.5" font-weight="bold" text-anchor="start" fill="#111111" textLength="98.00" lengthAdjust="spacingAndGlyphs" >IFNAR-Null</text>
<text x="794.50" y="418.00" font-size="22.4" font-weight="normal" text-anchor="start" fill="#151515" textLength="11.20" lengthAdjust="spacingAndGlyphs" >1</text>
<text x="828.00" y="418.00" font-size="22.4" font-weight="normal" text-anchor="start" fill="#151515" textLength="12.30" lengthAdjust="spacingAndGlyphs" >2</text>
<text x="858.20" y="418.00" font-size="22.4" font-weight="normal" text-anchor="start" fill="#151515" textLength="13.00" lengthAdjust="spacingAndGlyphs" >3</text>
<text x="889.50" y="418.00" font-size="22.4" font-weight="normal" text-anchor="start" fill="#151515" textLength="13.00" lengthAdjust="spacingAndGlyphs" >4</text>
<text x="928.60" y="418.00" font-size="22.4" font-weight="normal" text-anchor="start" fill="#151515" textLength="11.80" lengthAdjust="spacingAndGlyphs" >1</text>
<text x="961.00" y="418.00" font-size="22.4" font-weight="normal" text-anchor="start" fill="#151515" textLength="11.60" lengthAdjust="spacingAndGlyphs" >2</text>
<text x="986.70" y="418.00" font-size="22.4" font-weight="normal" text-anchor="start" fill="#151515" textLength="13.00" lengthAdjust="spacingAndGlyphs" >3</text>
<text x="1014.60" y="418.00" font-size="22.4" font-weight="normal" text-anchor="start" fill="#151515" textLength="13.00" lengthAdjust="spacingAndGlyphs" >4</text>
<text x="1032.00" y="418.00" font-size="22.4" font-weight="normal" text-anchor="start" fill="#151515" textLength="44.00" lengthAdjust="spacingAndGlyphs" >MW</text>
<text x="1061.60" y="448.50" font-size="23.3" font-weight="normal" text-anchor="start" fill="#151515" textLength="30.10" lengthAdjust="spacingAndGlyphs" >kD</text>
<text x="1059.30" y="489.90" font-size="20.5" font-weight="normal" text-anchor="start" fill="#1c1c1c" textLength="31.31" lengthAdjust="spacingAndGlyphs" >100</text>
<line x1="1049.30" y1="482.70" x2="1057.10" y2="482.70" stroke="#5b9bd5" stroke-width="2" />
<text x="1060.40" y="519.00" font-size="20.5" font-weight="normal" text-anchor="start" fill="#1c1c1c" textLength="19.01" lengthAdjust="spacingAndGlyphs" >75</text>
<line x1="1049.30" y1="511.80" x2="1057.10" y2="511.80" stroke="#5b9bd5" stroke-width="2" />
<text x="1060.40" y="549.80" font-size="20.5" font-weight="normal" text-anchor="start" fill="#1c1c1c" textLength="19.01" lengthAdjust="spacingAndGlyphs" >60</text>
<line x1="1049.30" y1="542.60" x2="1057.10" y2="542.60" stroke="#5b9bd5" stroke-width="2" />
<g clip-path="url(#cB23)"><g filter="url(#bl20)">
<rect x="784.30" y="429.30" width="31.00" height="187.40" fill="url(#lgL1)" stroke="none" stroke-width="0" />
<rect x="816.80" y="429.30" width="31.70" height="187.40" fill="url(#lgL2)" stroke="none" stroke-width="0" />
<rect x="850.50" y="429.30" width="36.50" height="187.40" fill="url(#lgL3)" stroke="none" stroke-width="0" />
<rect x="888.50" y="429.30" width="32.10" height="187.40" fill="#dadada" stroke="none" stroke-width="0" />
<rect x="924.80" y="429.10" width="105.50" height="187.70" fill="#d6d6d6" stroke="none" stroke-width="0" />
<rect x="927.00" y="430.00" width="25.00" height="186.00" fill="#cacaca" stroke="none" stroke-width="0" />
<rect x="957.00" y="430.00" width="22.00" height="186.00" fill="#cacaca" stroke="none" stroke-width="0" />
<rect x="984.00" y="430.00" width="21.00" height="186.00" fill="#cacaca" stroke="none" stroke-width="0" />
<rect x="1010.00" y="430.00" width="19.00" height="186.00" fill="#cacaca" stroke="none" stroke-width="0" />
<rect x="1034.70" y="429.10" width="14.60" height="187.70" fill="#dcdcdc" stroke="none" stroke-width="0" />
<rect x="1036.00" y="438.75" width="12.00" height="2.50" rx="1.25" fill="#b4b4b4" fill-opacity="1.0"/>
<rect x="1036.00" y="450.75" width="12.00" height="2.50" rx="1.25" fill="#b4b4b4" fill-opacity="1.0"/>
<rect x="1036.00" y="466.75" width="12.00" height="2.50" rx="1.25" fill="#b4b4b4" fill-opacity="1.0"/>
<rect x="1036.00" y="479.75" width="12.00" height="2.50" rx="1.25" fill="#b4b4b4" fill-opacity="1.0"/>
<rect x="1036.00" y="493.75" width="12.00" height="2.50" rx="1.25" fill="#b4b4b4" fill-opacity="1.0"/>
<rect x="1036.00" y="501.75" width="12.00" height="2.50" rx="1.25" fill="#b4b4b4" fill-opacity="1.0"/>
<rect x="1036.00" y="518.75" width="12.00" height="2.50" rx="1.25" fill="#b4b4b4" fill-opacity="1.0"/>
<rect x="1036.00" y="533.75" width="12.00" height="2.50" rx="1.25" fill="#b4b4b4" fill-opacity="1.0"/>
<rect x="1036.00" y="565.75" width="12.00" height="2.50" rx="1.25" fill="#b4b4b4" fill-opacity="1.0"/>
<rect x="1036.00" y="575.75" width="12.00" height="2.50" rx="1.25" fill="#b4b4b4" fill-opacity="1.0"/>
<rect x="1036.00" y="598.75" width="12.00" height="2.50" rx="1.25" fill="#b4b4b4" fill-opacity="1.0"/>
</g></g>
<g clip-path="url(#cB2)"><g filter="url(#bl40)">
<rect x="786.00" y="495.00" width="28.00" height="105.00" fill="#aaaaaa" stroke="none" stroke-width="0" fill-opacity="0.5"/>
<rect x="818.00" y="440.00" width="29.00" height="30.00" fill="#5a5a5a" stroke="none" stroke-width="0" fill-opacity="0.6"/>
<rect x="818.00" y="495.00" width="29.00" height="105.00" fill="#5f5f5f" stroke="none" stroke-width="0" fill-opacity="0.55"/>
<rect x="822.00" y="530.00" width="23.00" height="40.00" fill="#464646" stroke="none" stroke-width="0" fill-opacity="0.5"/>
<rect x="853.00" y="490.00" width="33.00" height="55.00" fill="#787878" stroke="none" stroke-width="0" fill-opacity="0.6"/>
<rect x="871.00" y="432.00" width="11.00" height="38.00" fill="#3c3c3c" stroke="none" stroke-width="0" fill-opacity="0.8"/>
</g></g>
<g clip-path="url(#cB2)"><g filter="url(#bl15)">
<rect x="785.00" y="476.00" width="29.00" height="9.00" rx="4.50" fill="#787878" fill-opacity="1.0"/>
<rect x="817.00" y="472.00" width="31.00" height="18.00" rx="9.00" fill="#050505" fill-opacity="1.0"/>
<rect x="851.00" y="475.00" width="35.00" height="10.00" rx="5.00" fill="#000000" fill-opacity="1.0"/>
<rect x="874.00" y="434.00" width="6.00" height="22.00" rx="3.00" fill="#323232" fill-opacity="0.8"/>
</g></g>
<rect x="815.30" y="429.30" width="1.50" height="187.40" fill="#f4f4f4" stroke="none" stroke-width="0" />
<rect x="848.50" y="429.30" width="2.00" height="187.40" fill="#f0f0f0" stroke="none" stroke-width="0" />
<text x="807.40" y="643.90" font-size="22.7" font-weight="bold" text-anchor="start" fill="#111111" textLength="91.91" lengthAdjust="spacingAndGlyphs" >Western</text>
<text x="792.70" y="673.70" font-size="23.5" font-weight="bold" text-anchor="start" fill="#111111" textLength="119.90" lengthAdjust="spacingAndGlyphs" >Anti-hACE2</text>
<text x="962.80" y="645.30" font-size="22.7" font-weight="bold" text-anchor="start" fill="#111111" textLength="51.91" lengthAdjust="spacingAndGlyphs" >Total</text>
<text x="953.60" y="674.60" font-size="22.7" font-weight="bold" text-anchor="start" fill="#111111" textLength="78.29" lengthAdjust="spacingAndGlyphs" >protein</text>
<text x="1133.60" y="456.40" font-size="16.3" font-weight="bold" text-anchor="start" fill="#111111" textLength="35.20" lengthAdjust="spacingAndGlyphs" >Lane</text>
<text x="1226.00" y="456.60" font-size="16.3" font-weight="bold" text-anchor="start" fill="#111111" textLength="150.70" lengthAdjust="spacingAndGlyphs" >Days post-infection</text>
<line x1="1101.70" y1="469.40" x2="1401.00" y2="469.40" stroke="#222" stroke-width="2.4" />
<text x="1146.97" y="492.80" font-size="16.3" font-weight="bold" text-anchor="start" fill="#111111" textLength="9.07" lengthAdjust="spacingAndGlyphs" >1</text>
<text x="1275.80" y="492.80" font-size="16.3" font-weight="bold" text-anchor="start" fill="#111111" textLength="49.99" lengthAdjust="spacingAndGlyphs" >3 Days</text>
<text x="1146.97" y="529.20" font-size="16.3" font-weight="bold" text-anchor="start" fill="#111111" textLength="9.07" lengthAdjust="spacingAndGlyphs" >2</text>
<text x="1275.80" y="529.20" font-size="16.3" font-weight="bold" text-anchor="start" fill="#111111" textLength="49.99" lengthAdjust="spacingAndGlyphs" >4 Days</text>
<text x="1146.97" y="564.70" font-size="16.3" font-weight="bold" text-anchor="start" fill="#111111" textLength="9.07" lengthAdjust="spacingAndGlyphs" >3</text>
<text x="1275.80" y="564.70" font-size="16.3" font-weight="bold" text-anchor="start" fill="#111111" textLength="49.99" lengthAdjust="spacingAndGlyphs" >5 Days</text>
<text x="1146.97" y="600.60" font-size="16.3" font-weight="bold" text-anchor="start" fill="#111111" textLength="9.07" lengthAdjust="spacingAndGlyphs" >4</text>
<text x="1251.00" y="600.60" font-size="16.3" font-weight="bold" text-anchor="start" fill="#111111" textLength="101.20" lengthAdjust="spacingAndGlyphs" >Non-infected</text>
<path d="M75.6,746.8 A13.75,17.3 0 1 0 75.6,772.7" stroke="#000" stroke-width="3.7" fill="none"/>
<rect x="161.20" y="761.50" width="213.70" height="58.50" fill="#fff" stroke="#d0662a" stroke-width="2.9" />
<text x="185.90" y="801.70" font-size="27.5" font-weight="normal" text-anchor="start" fill="#202020" textLength="166.39" lengthAdjust="spacingAndGlyphs" >Anti-IFNAR, IP</text>
<rect x="384.00" y="735.10" width="275.30" height="57.40" fill="#fff" stroke="#d0662a" stroke-width="2.9" />
<text x="407.90" y="774.60" font-size="27.5" font-weight="normal" text-anchor="start" fill="#202020" textLength="228.61" lengthAdjust="spacingAndGlyphs" >Ad5-hACE2-GFP, IN</text>
<rect x="460.90" y="798.70" width="227.90" height="58.10" fill="#fff" stroke="#d0662a" stroke-width="2.9" />
<text x="485.00" y="836.70" font-size="27.5" font-weight="normal" text-anchor="start" fill="#202020" textLength="181.00" lengthAdjust="spacingAndGlyphs" >SARS-CoV-2, IN</text>
<line x1="364.30" y1="820.00" x2="364.30" y2="856.00" stroke="#c55a11" stroke-width="2.5" />
<polygon points="355.30,854.10 373.30,854.10 364.30,871.80" fill="#c55a11" />
<line x1="407.30" y1="792.50" x2="407.30" y2="856.00" stroke="#c55a11" stroke-width="2.5" />
<polygon points="398.30,854.10 416.30,854.10 407.30,871.80" fill="#c55a11" />
<line x1="573.30" y1="857.00" x2="573.30" y2="870.00" stroke="#c55a11" stroke-width="2.5" />
<polygon points="565.80,866.50 580.80,866.50 573.30,883.00" fill="#c55a11" />
<line x1="573.30" y1="883.90" x2="1186.00" y2="883.90" stroke="#dd7b45" stroke-width="2.2" />
<polygon points="1184.40,876.20 1203.60,883.90 1184.40,891.60" fill="#c55a11" />
<text x="795.10" y="868.20" font-size="27" font-weight="normal" text-anchor="start" fill="#202020" textLength="315.89" lengthAdjust="spacingAndGlyphs" >Follow-up (body weight)</text>
<line x1="364.50" y1="890.00" x2="364.50" y2="944.00" stroke="#9cc2e8" stroke-width="1.8" />
<line x1="406.45" y1="890.00" x2="406.45" y2="944.00" stroke="#9cc2e8" stroke-width="1.8" />
<line x1="448.40" y1="890.00" x2="448.40" y2="944.00" stroke="#9cc2e8" stroke-width="1.8" />
<line x1="490.35" y1="890.00" x2="490.35" y2="944.00" stroke="#9cc2e8" stroke-width="1.8" />
<line x1="532.30" y1="890.00" x2="532.30" y2="944.00" stroke="#9cc2e8" stroke-width="1.8" />
<line x1="574.25" y1="890.00" x2="574.25" y2="944.00" stroke="#9cc2e8" stroke-width="1.8" />
<line x1="616.20" y1="890.00" x2="616.20" y2="944.00" stroke="#9cc2e8" stroke-width="1.8" />
<line x1="658.15" y1="890.00" x2="658.15" y2="944.00" stroke="#9cc2e8" stroke-width="1.8" />
<line x1="700.10" y1="890.00" x2="700.10" y2="944.00" stroke="#9cc2e8" stroke-width="1.8" />
<line x1="742.05" y1="890.00" x2="742.05" y2="944.00" stroke="#9cc2e8" stroke-width="1.8" />
<line x1="784.00" y1="890.00" x2="784.00" y2="944.00" stroke="#9cc2e8" stroke-width="1.8" />
<line x1="825.95" y1="890.00" x2="825.95" y2="944.00" stroke="#9cc2e8" stroke-width="1.8" />
<line x1="867.90" y1="890.00" x2="867.90" y2="944.00" stroke="#9cc2e8" stroke-width="1.8" />
<line x1="909.85" y1="890.00" x2="909.85" y2="944.00" stroke="#9cc2e8" stroke-width="1.8" />
<line x1="951.80" y1="890.00" x2="951.80" y2="944.00" stroke="#9cc2e8" stroke-width="1.8" />
<line x1="993.75" y1="890.00" x2="993.75" y2="944.00" stroke="#9cc2e8" stroke-width="1.8" />
<line x1="1035.70" y1="890.00" x2="1035.70" y2="944.00" stroke="#9cc2e8" stroke-width="1.8" />
<line x1="1077.65" y1="890.00" x2="1077.65" y2="944.00" stroke="#9cc2e8" stroke-width="1.8" />
<line x1="1119.60" y1="890.00" x2="1119.60" y2="944.00" stroke="#9cc2e8" stroke-width="1.8" />
<line x1="1161.55" y1="890.00" x2="1161.55" y2="944.00" stroke="#9cc2e8" stroke-width="1.8" />
<path d="M364.2,896.2 L1181.6,896.2 L1181.6,885.8 L1202.5,906.1 L1181.6,926.6 L1181.6,916 L364.2,916 Z" fill="#fae4d6" stroke="#3a80cc" stroke-width="2.4" stroke-linejoin="miter"/>
<line x1="364.50" y1="890.00" x2="364.50" y2="895.00" stroke="#9cc2e8" stroke-width="1.8" />
<line x1="406.45" y1="890.00" x2="406.45" y2="895.00" stroke="#9cc2e8" stroke-width="1.8" />
<line x1="448.40" y1="890.00" x2="448.40" y2="895.00" stroke="#9cc2e8" stroke-width="1.8" />
<line x1="490.35" y1="890.00" x2="490.35" y2="895.00" stroke="#9cc2e8" stroke-width="1.8" />
<line x1="532.30" y1="890.00" x2="532.30" y2="895.00" stroke="#9cc2e8" stroke-width="1.8" />
<line x1="574.25" y1="890.00" x2="574.25" y2="895.00" stroke="#9cc2e8" stroke-width="1.8" />
<line x1="616.20" y1="890.00" x2="616.20" y2="895.00" stroke="#9cc2e8" stroke-width="1.8" />
<line x1="658.15" y1="890.00" x2="658.15" y2="895.00" stroke="#9cc2e8" stroke-width="1.8" />
<line x1="700.10" y1="890.00" x2="700.10" y2="895.00" stroke="#9cc2e8" stroke-width="1.8" />
<line x1="742.05" y1="890.00" x2="742.05" y2="895.00" stroke="#9cc2e8" stroke-width="1.8" />
<line x1="784.00" y1="890.00" x2="784.00" y2="895.00" stroke="#9cc2e8" stroke-width="1.8" />
<line x1="825.95" y1="890.00" x2="825.95" y2="895.00" stroke="#9cc2e8" stroke-width="1.8" />
<line x1="867.90" y1="890.00" x2="867.90" y2="895.00" stroke="#9cc2e8" stroke-width="1.8" />
<line x1="909.85" y1="890.00" x2="909.85" y2="895.00" stroke="#9cc2e8" stroke-width="1.8" />
<line x1="951.80" y1="890.00" x2="951.80" y2="895.00" stroke="#9cc2e8" stroke-width="1.8" />
<line x1="993.75" y1="890.00" x2="993.75" y2="895.00" stroke="#9cc2e8" stroke-width="1.8" />
<line x1="1035.70" y1="890.00" x2="1035.70" y2="895.00" stroke="#9cc2e8" stroke-width="1.8" />
<line x1="1077.65" y1="890.00" x2="1077.65" y2="895.00" stroke="#9cc2e8" stroke-width="1.8" />
<line x1="1119.60" y1="890.00" x2="1119.60" y2="895.00" stroke="#9cc2e8" stroke-width="1.8" />
<line x1="1161.55" y1="890.00" x2="1161.55" y2="895.00" stroke="#9cc2e8" stroke-width="1.8" />
<text x="354.10" y="969.80" font-size="26.5" font-weight="normal" text-anchor="start" fill="#202020" textLength="22.70" lengthAdjust="spacingAndGlyphs" >-5</text>
<text x="395.80" y="969.80" font-size="26.5" font-weight="normal" text-anchor="start" fill="#202020" textLength="23.20" lengthAdjust="spacingAndGlyphs" >-4</text>
<text x="439.00" y="969.80" font-size="26.5" font-weight="normal" text-anchor="start" fill="#202020" textLength="22.70" lengthAdjust="spacingAndGlyphs" >-3</text>
<text x="490.00" y="969.80" font-size="26.5" font-weight="normal" text-anchor="start" fill="#202020" textLength="23.00" lengthAdjust="spacingAndGlyphs" >-2</text>
<text x="530.00" y="969.80" font-size="26.5" font-weight="normal" text-anchor="start" fill="#202020" textLength="23.00" lengthAdjust="spacingAndGlyphs" >-1</text>
<text x="573.00" y="969.80" font-size="26.5" font-weight="normal" text-anchor="start" fill="#202020" textLength="15.00" lengthAdjust="spacingAndGlyphs" >0</text>
<text x="616.00" y="969.80" font-size="26.5" font-weight="normal" text-anchor="start" fill="#202020" textLength="12.50" lengthAdjust="spacingAndGlyphs" >1</text>
<text x="658.60" y="969.80" font-size="26.5" font-weight="normal" text-anchor="start" fill="#202020" textLength="12.40" lengthAdjust="spacingAndGlyphs" >2</text>
<text x="696.00" y="969.80" font-size="26.5" font-weight="normal" text-anchor="start" fill="#202020" textLength="13.00" lengthAdjust="spacingAndGlyphs" >3</text>
<text x="736.92" y="969.80" font-size="26.5" font-weight="normal" text-anchor="start" fill="#202020" textLength="13.56" lengthAdjust="spacingAndGlyphs" >4</text>
<text x="783.02" y="969.80" font-size="26.5" font-weight="normal" text-anchor="start" fill="#202020" textLength="13.56" lengthAdjust="spacingAndGlyphs" >5</text>
<text x="824.92" y="969.80" font-size="26.5" font-weight="normal" text-anchor="start" fill="#202020" textLength="13.56" lengthAdjust="spacingAndGlyphs" >6</text>
<text x="866.82" y="969.80" font-size="26.5" font-weight="normal" text-anchor="start" fill="#202020" textLength="13.56" lengthAdjust="spacingAndGlyphs" >7</text>
<text x="905.22" y="969.80" font-size="26.5" font-weight="normal" text-anchor="start" fill="#202020" textLength="13.56" lengthAdjust="spacingAndGlyphs" >8</text>
<text x="946.42" y="969.80" font-size="26.5" font-weight="normal" text-anchor="start" fill="#202020" textLength="13.56" lengthAdjust="spacingAndGlyphs" >9</text>
<text x="982.24" y="969.80" font-size="26.5" font-weight="normal" text-anchor="start" fill="#202020" textLength="27.12" lengthAdjust="spacingAndGlyphs" >10</text>
<text x="1025.75" y="969.80" font-size="26.5" font-weight="normal" text-anchor="start" fill="#202020" textLength="25.31" lengthAdjust="spacingAndGlyphs" >11</text>
<text x="1066.04" y="969.80" font-size="26.5" font-weight="normal" text-anchor="start" fill="#202020" textLength="27.12" lengthAdjust="spacingAndGlyphs" >12</text>
<text x="1108.64" y="969.80" font-size="26.5" font-weight="normal" text-anchor="start" fill="#202020" textLength="27.12" lengthAdjust="spacingAndGlyphs" >13</text>
<text x="1149.84" y="969.80" font-size="26.5" font-weight="normal" text-anchor="start" fill="#202020" textLength="27.12" lengthAdjust="spacingAndGlyphs" >14</text>
<text x="736.80" y="1004.30" font-size="27" font-weight="normal" text-anchor="start" fill="#202020" textLength="235.30" lengthAdjust="spacingAndGlyphs" >Day post-infection</text>
<line x1="255.50" y1="1448.34" x2="905.80" y2="1448.34" stroke="#dadada" stroke-width="1.3" />
<line x1="255.50" y1="1355.66" x2="905.80" y2="1355.66" stroke="#dadada" stroke-width="1.3" />
<line x1="255.50" y1="1262.98" x2="905.80" y2="1262.98" stroke="#dadada" stroke-width="1.3" />
<line x1="255.50" y1="1170.30" x2="905.80" y2="1170.30" stroke="#dadada" stroke-width="1.3" />
<line x1="255.50" y1="1077.62" x2="905.80" y2="1077.62" stroke="#dadada" stroke-width="1.3" />
<line x1="255.50" y1="1077.62" x2="255.50" y2="1448.34" stroke="#dadada" stroke-width="1.3" />
<line x1="348.40" y1="1077.62" x2="348.40" y2="1448.34" stroke="#dadada" stroke-width="1.3" />
<line x1="441.30" y1="1077.62" x2="441.30" y2="1448.34" stroke="#dadada" stroke-width="1.3" />
<line x1="534.20" y1="1077.62" x2="534.20" y2="1448.34" stroke="#dadada" stroke-width="1.3" />
<line x1="627.10" y1="1077.62" x2="627.10" y2="1448.34" stroke="#dadada" stroke-width="1.3" />
<line x1="720.00" y1="1077.62" x2="720.00" y2="1448.34" stroke="#dadada" stroke-width="1.3" />
<line x1="812.90" y1="1077.62" x2="812.90" y2="1448.34" stroke="#dadada" stroke-width="1.3" />
<line x1="905.80" y1="1077.62" x2="905.80" y2="1448.34" stroke="#dadada" stroke-width="1.3" />
<text x="181.40" y="1460.14" font-size="33" font-weight="normal" text-anchor="start" fill="#202020" textLength="36.81" lengthAdjust="spacingAndGlyphs" >70</text>
<text x="181.40" y="1367.46" font-size="33" font-weight="normal" text-anchor="start" fill="#202020" textLength="36.81" lengthAdjust="spacingAndGlyphs" >80</text>
<text x="181.40" y="1274.78" font-size="33" font-weight="normal" text-anchor="start" fill="#202020" textLength="36.81" lengthAdjust="spacingAndGlyphs" >90</text>
<text x="165.40" y="1182.10" font-size="33" font-weight="normal" text-anchor="start" fill="#202020" textLength="52.81" lengthAdjust="spacingAndGlyphs" >100</text>
<text x="165.40" y="1089.42" font-size="33" font-weight="normal" text-anchor="start" fill="#202020" textLength="52.81" lengthAdjust="spacingAndGlyphs" >110</text>
<text x="249.25" y="1494.20" font-size="31.5" font-weight="normal" text-anchor="start" fill="#202020" textLength="16.70" lengthAdjust="spacingAndGlyphs" >0</text>
<text x="340.05" y="1494.20" font-size="31.5" font-weight="normal" text-anchor="start" fill="#202020" textLength="16.70" lengthAdjust="spacingAndGlyphs" >2</text>
<text x="431.15" y="1494.20" font-size="31.5" font-weight="normal" text-anchor="start" fill="#202020" textLength="16.70" lengthAdjust="spacingAndGlyphs" >4</text>
<text x="522.25" y="1494.20" font-size="31.5" font-weight="normal" text-anchor="start" fill="#202020" textLength="16.70" lengthAdjust="spacingAndGlyphs" >6</text>
<text x="611.95" y="1494.20" font-size="31.5" font-weight="normal" text-anchor="start" fill="#202020" textLength="16.70" lengthAdjust="spacingAndGlyphs" >8</text>
<text x="703.80" y="1494.20" font-size="31.5" font-weight="normal" text-anchor="start" fill="#202020" textLength="33.61" lengthAdjust="spacingAndGlyphs" >10</text>
<text x="794.70" y="1494.20" font-size="31.5" font-weight="normal" text-anchor="start" fill="#202020" textLength="33.61" lengthAdjust="spacingAndGlyphs" >12</text>
<text x="884.20" y="1494.20" font-size="31.5" font-weight="normal" text-anchor="start" fill="#202020" textLength="33.61" lengthAdjust="spacingAndGlyphs" >14</text>
<text x="443.30" y="1532.00" font-size="32" font-weight="bold" text-anchor="start" fill="#111111" textLength="280.70" lengthAdjust="spacingAndGlyphs" >Days post-infection</text>
<text transform="translate(124.00,1384.20) rotate(-90)" x="-0.00" y="0" font-size="35" font-weight="bold" fill="#111111" textLength="219.19" lengthAdjust="spacingAndGlyphs">% Body-weight</text>
<polyline points="440.70,1102.70 440.70,1053.10 724.00,1053.10 724.00,1102.70" fill="none" stroke="#111" stroke-width="2.6" stroke-linejoin="round" />
<path d="M552.70,1042.20L552.70,1022.20M544.04,1037.20L561.36,1027.20M544.04,1027.20L561.36,1037.20" stroke="#111" stroke-width="3.3" fill="none"/>
<path d="M582.00,1042.20L582.00,1022.20M573.34,1037.20L590.66,1027.20M573.34,1027.20L590.66,1037.20" stroke="#111" stroke-width="3.3" fill="none"/>
<path d="M611.20,1042.20L611.20,1022.20M602.54,1037.20L619.86,1027.20M602.54,1027.20L619.86,1037.20" stroke="#111" stroke-width="3.3" fill="none"/>
<polyline points="255.50,1170.30 301.95,1157.32 348.40,1141.57 394.85,1129.52 441.30,1136.94 487.75,1140.64 534.20,1153.62 580.65,1169.37 627.10,1133.23 673.55,1124.89 720.00,1133.23 766.45,1124.89 812.90,1120.25 859.35,1116.55" fill="none" stroke="#2a7ad0" stroke-width="3" stroke-linejoin="round" />
<polyline points="255.50,1170.30 301.95,1195.32 348.40,1177.71 394.85,1178.64 441.30,1175.86 487.75,1170.30 534.20,1161.96 580.65,1169.37 627.10,1164.74 673.55,1157.32 720.00,1149.91 766.45,1148.98 812.90,1136.94 859.35,1124.89" fill="none" stroke="#2a7ad0" stroke-width="3" stroke-linejoin="round" />
<polyline points="255.50,1170.30 301.95,1199.96 348.40,1170.30 394.85,1189.76 441.30,1174.01 487.75,1182.35 534.20,1198.10 580.65,1213.86 627.10,1186.06 673.55,1178.64 720.00,1177.71 766.45,1166.59 812.90,1161.03 859.35,1154.54" fill="none" stroke="#2a7ad0" stroke-width="3" stroke-linejoin="round" />
<polyline points="255.50,1170.30 301.95,1198.10 348.40,1174.93 394.85,1184.20 441.30,1175.86 487.75,1198.10 534.20,1205.52 580.65,1224.05 627.10,1194.40 673.55,1179.57 720.00,1175.86 766.45,1177.71 812.90,1174.01 859.35,1170.30" fill="none" stroke="#2a7ad0" stroke-width="3" stroke-linejoin="round" />
<polyline points="255.50,1170.30 301.95,1211.08 348.40,1186.06 394.85,1214.79 441.30,1264.83 487.75,1303.76 534.20,1356.59 580.65,1377.90 627.10,1298.20 673.55,1246.30 720.00,1201.81 766.45,1201.81 812.90,1201.81 859.35,1201.81" fill="none" stroke="#ff0000" stroke-width="2.6" stroke-linejoin="round" />
<polyline points="255.50,1170.30 301.95,1216.64 348.40,1191.62 394.85,1218.49 441.30,1272.25 487.75,1311.17 534.20,1360.29 580.65,1389.95 627.10,1314.88 673.55,1259.27 720.00,1206.45 766.45,1211.08 812.90,1178.64 859.35,1146.20" fill="none" stroke="#ff0000" stroke-width="2.6" stroke-linejoin="round" />
<polyline points="255.50,1170.30 301.95,1225.91 348.40,1186.06 394.85,1221.27 441.30,1274.10 487.75,1325.08 534.20,1364.93 580.65,1393.66 627.10,1331.56 673.55,1288.93 720.00,1253.71 766.45,1225.91 812.90,1224.05 859.35,1222.20" fill="none" stroke="#ff0000" stroke-width="2.6" stroke-linejoin="round" />
<polyline points="255.50,1170.30 301.95,1225.91 348.40,1222.20 394.85,1212.01 441.30,1267.61 487.75,1332.49 534.20,1368.64 580.65,1443.71 627.10,1300.05 673.55,1266.69 720.00,1218.49 766.45,1212.01 812.90,1190.69 859.35,1170.30" fill="none" stroke="#ff0000" stroke-width="2.6" stroke-linejoin="round" />
<polyline points="255.50,1170.30 301.95,1214.79 348.40,1191.62 394.85,1216.64 441.30,1269.47 487.75,1309.32 534.20,1353.81 580.65,1392.73 627.10,1314.88 673.55,1261.13 720.00,1203.66 766.45,1205.52 812.90,1201.81 859.35,1201.81" fill="none" stroke="#ff0000" stroke-width="2.6" stroke-linejoin="round" />
<polyline points="255.50,1170.30 301.95,1186.06 348.40,1154.54 394.85,1173.08 441.30,1180.49 487.75,1147.13 534.20,1171.23 580.65,1147.13 627.10,1149.91 673.55,1138.79 720.00,1142.50 766.45,1150.84 812.90,1120.25 859.35,1089.67" fill="none" stroke="#ffc000" stroke-width="3" stroke-linejoin="round" />
<polyline points="255.50,1170.30 301.95,1195.32 348.40,1174.01 394.85,1183.28 441.30,1178.64 487.75,1142.50 534.20,1167.52 580.65,1157.32 627.10,1152.69 673.55,1142.50 720.00,1147.13 766.45,1165.67 812.90,1146.20 859.35,1124.89" fill="none" stroke="#ffc000" stroke-width="3" stroke-linejoin="round" />
<polyline points="255.50,1170.30 301.95,1199.96 348.40,1174.93 394.85,1186.06 441.30,1181.42 487.75,1152.69 534.20,1174.01 580.65,1162.89 627.10,1156.40 673.55,1152.69 720.00,1157.32 766.45,1173.08 812.90,1165.67 859.35,1158.25" fill="none" stroke="#ffc000" stroke-width="3" stroke-linejoin="round" />
<polyline points="255.50,1170.30 301.95,1203.66 348.40,1190.69 394.85,1206.45 441.30,1195.32 487.75,1158.25 534.20,1161.96 580.65,1174.01 627.10,1164.74 673.55,1170.30 720.00,1154.54 766.45,1174.01 812.90,1166.59 859.35,1159.18" fill="none" stroke="#ffc000" stroke-width="3" stroke-linejoin="round" />
<polyline points="255.50,1170.30 301.95,1206.45 348.40,1172.15 394.85,1218.49 441.30,1250.00 487.75,1211.08 534.20,1215.71 580.65,1177.71 627.10,1164.74 673.55,1155.47 720.00,1146.20 766.45,1151.76 812.90,1137.86 859.35,1125.81" fill="none" stroke="#ffc000" stroke-width="3" stroke-linejoin="round" />
<text x="995.70" y="1204.10" font-size="22.7" font-weight="bold" text-anchor="start" fill="#111111" textLength="169.60" lengthAdjust="spacingAndGlyphs" >Ad5-hACE2-GFP</text>
<line x1="995.70" y1="1209.20" x2="1164.60" y2="1209.20" stroke="#1a1a1a" stroke-width="2.2" />
<text x="1227.00" y="1204.10" font-size="22.7" font-weight="bold" text-anchor="start" fill="#111111" textLength="126.41" lengthAdjust="spacingAndGlyphs" >SARS-CoV-2</text>
<line x1="1227.00" y1="1209.20" x2="1353.40" y2="1209.20" stroke="#1a1a1a" stroke-width="2.2" />
<line x1="903.00" y1="1245.60" x2="971.70" y2="1245.60" stroke="#ff0000" stroke-width="5" />
<line x1="902.00" y1="1301.90" x2="970.60" y2="1301.90" stroke="#2a7ad0" stroke-width="5" />
<line x1="900.00" y1="1358.50" x2="968.70" y2="1358.50" stroke="#ffc000" stroke-width="5" />
<path d="M1074.1,1243.5 L1080.8,1257.0 L1087.4,1238.5" stroke="#111" stroke-width="3.8" fill="none" stroke-linejoin="miter"/>
<path d="M1074.1,1354.7 L1080.8,1368.2 L1087.4,1349.7" stroke="#111" stroke-width="3.8" fill="none" stroke-linejoin="miter"/>
<path d="M1283.4,1243.5 L1290.1,1257.0 L1296.7,1238.5" stroke="#111" stroke-width="3.8" fill="none" stroke-linejoin="miter"/>
<path d="M1283.4,1300.1 L1290.1,1313.6 L1296.7,1295.1" stroke="#111" stroke-width="3.8" fill="none" stroke-linejoin="miter"/>
<polyline points="1330.60,1240.60 1344.10,1240.60 1344.10,1307.10 1330.60,1307.10" fill="none" stroke="#222" stroke-width="3" stroke-linejoin="round" />
<polyline points="1363.40,1240.60 1378.00,1240.60 1378.00,1360.60 1363.40,1360.60" fill="none" stroke="#222" stroke-width="3" stroke-linejoin="round" />
<path d="M1363.20,1260.10L1351.20,1260.10M1360.20,1265.30L1354.20,1254.90M1354.20,1265.30L1360.20,1254.90" stroke="#111" stroke-width="1.7" fill="none"/>
<path d="M1363.20,1275.60L1351.20,1275.60M1360.20,1280.80L1354.20,1270.40M1354.20,1280.80L1360.20,1270.40" stroke="#111" stroke-width="1.7" fill="none"/>
<path d="M1363.20,1291.10L1351.20,1291.10M1360.20,1296.30L1354.20,1285.90M1354.20,1296.30L1360.20,1285.90" stroke="#111" stroke-width="1.7" fill="none"/>
<path d="M1398.60,1277.40L1386.60,1277.40M1395.60,1282.60L1389.60,1272.20M1389.60,1282.60L1395.60,1272.20" stroke="#111" stroke-width="1.7" fill="none"/>
<path d="M1398.60,1292.90L1386.60,1292.90M1395.60,1298.10L1389.60,1287.70M1389.60,1298.10L1395.60,1287.70" stroke="#111" stroke-width="1.7" fill="none"/>
<path d="M1398.60,1308.40L1386.60,1308.40M1395.60,1313.60L1389.60,1303.20M1389.60,1313.60L1395.60,1303.20" stroke="#111" stroke-width="1.7" fill="none"/>
</svg>
</body></html>
